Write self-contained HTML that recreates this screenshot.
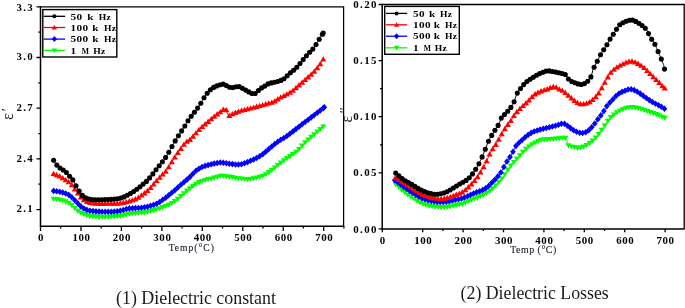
<!DOCTYPE html>
<html><head><meta charset="utf-8"><style>
html,body{margin:0;padding:0;background:#fff;}
body{width:685px;height:308px;overflow:hidden;}
svg{display:block;filter:blur(0.25px);}
</style></head><body>
<svg width="685" height="308" viewBox="0 0 685 308">
<path d="M40.5 6.8 H343.6 V226.3" stroke="#000" fill="none" stroke-width="1.25"/>
<path d="M40.5 6.2 V226.3 H344.2" stroke="#000" fill="none" stroke-width="1.5"/>
<path d="M36.5 6.8H40.5 M36.5 57.5H40.5 M36.5 108.2H40.5 M36.5 158.9H40.5 M36.5 209.6H40.5 M38.3 32.1H40.5 M38.3 82.8H40.5 M38.3 133.6H40.5 M38.3 184.2H40.5 M40.5 226.3V230.9 M81.0 226.3V230.9 M121.4 226.3V230.9 M161.9 226.3V230.9 M202.3 226.3V230.9 M242.8 226.3V230.9 M283.2 226.3V230.9 M323.7 226.3V230.9 M60.7 226.3V228.5 M101.2 226.3V228.5 M141.6 226.3V228.5 M182.1 226.3V228.5 M222.5 226.3V228.5 M263.0 226.3V228.5 M303.4 226.3V228.5 M343.9 226.3V228.5" stroke="#000" fill="none" stroke-width="1.3"/>
<path d="M382.2 4.5 H684.2 V229" stroke="#000" fill="none" stroke-width="1.3"/>
<path d="M382.2 3.8 V229 H684.5" stroke="#000" fill="none" stroke-width="1.5"/>
<path d="M378.6 4.5H382.2 M378.6 60.6H382.2 M378.6 116.7H382.2 M378.6 172.8H382.2 M378.6 228.9H382.2 M380.0 88.7H382.2 M380.0 144.8H382.2 M382.3 229V232.3 M422.7 229V232.3 M463.1 229V232.3 M503.5 229V232.3 M543.9 229V232.3 M584.3 229V232.3 M624.7 229V232.3 M665.1 229V232.3 M442.9 229V231 M483.3 229V231 M564.1 229V231 M604.5 229V231" stroke="#000" fill="none" stroke-width="1.3"/>
<g font-family="Liberation Serif" font-weight="bold" font-size="10.9" fill="#000"><text x="34.0" y="11.2" text-anchor="end" letter-spacing="1.3">3.3</text><text x="34.0" y="60.2" text-anchor="end" letter-spacing="1.3">3.0</text><text x="34.0" y="110.9" text-anchor="end" letter-spacing="1.3">2.7</text><text x="34.0" y="161.6" text-anchor="end" letter-spacing="1.3">2.4</text><text x="34.0" y="212.3" text-anchor="end" letter-spacing="1.3">2.1</text><text x="41.0" y="240.6" text-anchor="middle" letter-spacing="0.6">0</text><text x="81.5" y="240.6" text-anchor="middle" letter-spacing="0.6">100</text><text x="121.9" y="240.6" text-anchor="middle" letter-spacing="0.6">200</text><text x="162.4" y="240.6" text-anchor="middle" letter-spacing="0.6">300</text><text x="202.8" y="240.6" text-anchor="middle" letter-spacing="0.6">400</text><text x="243.2" y="240.6" text-anchor="middle" letter-spacing="0.6">500</text><text x="283.7" y="240.6" text-anchor="middle" letter-spacing="0.6">600</text><text x="324.2" y="240.6" text-anchor="middle" letter-spacing="0.6">700</text><text x="378.0" y="8.1" text-anchor="end" letter-spacing="1.45">0.20</text><text x="378.0" y="64.2" text-anchor="end" letter-spacing="1.45">0.15</text><text x="378.0" y="120.3" text-anchor="end" letter-spacing="1.45">0.10</text><text x="378.0" y="176.4" text-anchor="end" letter-spacing="1.45">0.05</text><text x="378.0" y="232.5" text-anchor="end" letter-spacing="1.45">0.00</text><text x="382.8" y="244" text-anchor="middle" letter-spacing="0.6">0</text><text x="423.2" y="244" text-anchor="middle" letter-spacing="0.6">100</text><text x="463.6" y="244" text-anchor="middle" letter-spacing="0.6">200</text><text x="504.0" y="244" text-anchor="middle" letter-spacing="0.6">300</text><text x="544.4" y="244" text-anchor="middle" letter-spacing="0.6">400</text><text x="584.8" y="244" text-anchor="middle" letter-spacing="0.6">500</text><text x="625.2" y="244" text-anchor="middle" letter-spacing="0.6">600</text><text x="665.6" y="244" text-anchor="middle" letter-spacing="0.6">700</text></g>
<text x="191.8" y="250.9" text-anchor="middle" font-family="Liberation Serif" font-size="9.6" letter-spacing="1" fill="#1a1a2a" stroke="#1a1a2a" stroke-width="0.12">Temp(°C)</text>
<text x="533.5" y="253.4" text-anchor="middle" font-family="Liberation Serif" font-size="9.8" letter-spacing="0.55" fill="#1a1a2a" stroke="#1a1a2a" stroke-width="0.12">Temp (°C)</text>
<text transform="translate(13.2,120.1) rotate(-90)" font-size="16.5" font-family="Liberation Serif" fill="#2a2238">ε</text>
<text transform="translate(11.6,111.3) rotate(-90)" font-size="15" font-family="Liberation Serif" fill="#2a2238">′</text>
<text transform="translate(351.6,122.4) rotate(-90)" font-size="16" font-family="Liberation Serif" fill="#2a2238">ε</text>
<text transform="translate(350.2,113.3) rotate(-90)" font-size="14" font-family="Liberation Serif" fill="#2a2238">′′</text>
<path d="M53.6 198.9 L54.3 199.0 L55.2 199.1 L56.2 199.2 L57.4 199.4 L58.6 199.6 L59.8 199.8 L60.9 200.0 L61.9 200.3 L62.9 200.5 L64.0 200.8 L65.0 201.2 L65.9 201.5 L66.8 201.9 L67.7 202.3 L68.7 202.8 L69.5 203.4 L70.3 204.0 L71.1 204.7 L71.9 205.3 L72.7 206.0 L73.4 206.8 L74.1 207.6 L74.8 208.3 L75.6 209.1 L76.4 209.9 L77.2 210.5 L78.0 211.1 L78.8 211.6 L79.6 212.1 L80.5 212.6 L81.5 213.1 L82.5 213.6 L83.4 214.0 L84.3 214.3 L85.2 214.7 L86.2 215.1 L87.2 215.4 L88.2 215.7 L89.3 216.0 L90.5 216.2 L91.4 216.3 L92.4 216.5 L93.3 216.6 L94.4 216.7 L95.4 216.8 L96.5 216.8 L97.5 216.9 L98.6 216.9 L99.7 217.0 L100.8 217.0 L101.8 217.0 L102.8 217.0 L103.9 217.0 L105.0 217.0 L106.0 217.0 L107.1 216.9 L108.2 216.9 L109.2 216.8 L110.3 216.8 L111.3 216.7 L112.2 216.7 L113.2 216.6 L114.3 216.5 L115.4 216.4 L116.5 216.3 L117.5 216.2 L118.5 216.1 L119.5 216.0 L120.5 215.9 L121.4 215.7 L122.3 215.6 L123.3 215.4 L124.2 215.1 L125.1 214.9 L125.9 214.6 L126.8 214.3 L127.9 214.0 L129.3 213.8 L130.1 213.7 L131.0 213.6 L131.9 213.5 L132.9 213.4 L133.9 213.4 L135.0 213.3 L136.1 213.2 L137.2 213.1 L138.3 213.1 L139.4 213.0 L140.5 212.9 L141.6 212.8 L142.6 212.6 L143.6 212.5 L144.7 212.3 L145.7 212.1 L146.7 212.0 L147.7 211.8 L148.7 211.5 L149.7 211.3 L150.7 211.1 L151.7 210.9 L152.7 210.6 L153.6 210.3 L154.6 210.0 L155.6 209.8 L156.6 209.4 L157.6 209.1 L158.6 208.8 L159.6 208.5 L160.6 208.1 L161.6 207.8 L162.6 207.4 L163.5 207.0 L164.5 206.6 L165.5 206.2 L166.4 205.8 L167.3 205.4 L168.2 205.0 L169.1 204.5 L170.1 204.0 L171.1 203.5 L172.0 202.9 L172.9 202.4 L173.8 201.8 L174.6 201.3 L175.5 200.7 L176.3 200.1 L177.0 199.6 L177.8 199.0 L178.7 198.3 L179.5 197.6 L180.2 196.9 L180.9 196.2 L181.6 195.5 L182.4 194.8 L183.1 194.1 L183.9 193.4 L184.7 192.7 L185.4 192.0 L186.2 191.4 L187.1 190.7 L187.9 190.0 L188.8 189.3 L189.6 188.6 L190.5 188.0 L191.3 187.3 L192.0 186.8 L192.9 186.2 L193.8 185.5 L194.7 184.9 L195.5 184.3 L196.4 183.8 L197.2 183.3 L198.0 182.8 L198.9 182.4 L199.9 181.9 L200.9 181.5 L201.9 181.1 L202.9 180.8 L203.9 180.5 L204.9 180.2 L205.9 179.9 L206.9 179.6 L207.9 179.3 L208.9 179.1 L209.9 178.9 L210.9 178.6 L211.9 178.4 L212.9 178.1 L214.0 177.9 L215.0 177.6 L216.1 177.3 L217.1 177.0 L217.9 176.8 L218.9 176.5 L219.7 176.1 L220.6 175.9 L221.8 175.9 L222.6 176.0 L223.5 176.1 L224.5 176.2 L225.6 176.3 L226.7 176.4 L227.8 176.6 L228.9 176.8 L230.0 176.9 L231.0 177.1 L232.0 177.3 L233.0 177.4 L234.0 177.6 L235.0 177.8 L236.0 178.0 L237.0 178.2 L238.0 178.4 L239.0 178.5 L240.0 178.7 L241.0 178.8 L242.0 178.9 L243.0 179.0 L244.0 179.1 L245.1 179.1 L246.1 179.1 L247.1 179.2 L248.1 179.1 L249.1 179.1 L250.1 179.0 L251.2 178.8 L252.2 178.7 L253.3 178.5 L254.3 178.3 L255.3 178.1 L256.3 177.8 L257.3 177.6 L258.3 177.4 L259.3 177.1 L260.3 176.9 L261.2 176.6 L262.1 176.3 L263.0 175.9 L264.0 175.5 L264.9 175.0 L265.7 174.5 L266.5 173.9 L267.4 173.3 L268.3 172.7 L269.1 172.0 L270.0 171.4 L270.8 170.7 L271.6 170.1 L272.4 169.5 L273.3 168.8 L274.1 168.1 L274.9 167.5 L275.7 166.8 L276.5 166.1 L277.3 165.5 L278.1 164.8 L278.9 164.2 L279.7 163.6 L280.5 162.9 L281.3 162.3 L282.1 161.7 L283.0 161.1 L283.8 160.5 L284.6 159.9 L285.4 159.3 L286.3 158.7 L287.1 158.1 L288.0 157.6 L288.9 157.0 L289.7 156.5 L290.6 155.9 L291.5 155.3 L292.3 154.7 L293.1 154.1 L293.9 153.6 L294.7 153.0 L295.5 152.4 L296.3 151.8 L297.1 151.1 L297.9 150.4 L298.6 149.7 L299.3 149.0 L299.9 148.3 L300.5 147.6 L301.2 146.8 L301.8 146.0 L302.5 145.3 L303.1 144.5 L303.9 143.7 L304.6 142.9 L305.3 142.2 L306.0 141.5 L306.7 140.9 L307.5 140.2 L308.2 139.5 L309.0 138.9 L309.8 138.2 L310.6 137.5 L311.4 136.8 L312.2 136.2 L312.9 135.5 L313.7 134.8 L314.5 134.2 L315.3 133.5 L316.2 132.7 L317.0 132.0 L317.9 131.2 L318.8 130.4 L319.6 129.7 L320.5 129.0 L321.2 128.3 L321.9 127.7 L322.5 127.2 L323.0 126.8 L323.2 126.6" fill="none" stroke="#0f0" stroke-width="1.0" stroke-linejoin="round"/>
<g fill="#0f0"><path d="M53.6 201.9L56.6 196.7L50.6 196.7Z"/><path d="M56.6 202.3L59.7 197.1L53.6 197.1Z"/><path d="M59.7 202.8L62.7 197.5L56.6 197.5Z"/><path d="M62.7 203.5L65.7 198.3L59.7 198.3Z"/><path d="M65.7 204.5L68.7 199.2L62.7 199.2Z"/><path d="M68.8 205.9L71.8 200.7L65.7 200.7Z"/><path d="M71.8 208.3L74.8 203.0L68.8 203.0Z"/><path d="M74.8 211.3L77.8 206.1L71.8 206.1Z"/><path d="M77.8 214.0L80.9 208.8L74.8 208.8Z"/><path d="M80.9 215.8L83.9 210.6L77.8 210.6Z"/><path d="M83.9 217.2L86.9 212.0L80.9 212.0Z"/><path d="M86.9 218.3L90.0 213.1L83.9 213.1Z"/><path d="M90.0 219.1L93.0 213.9L86.9 213.9Z"/><path d="M93.0 219.6L96.0 214.3L90.0 214.3Z"/><path d="M96.0 219.8L99.0 214.6L93.0 214.6Z"/><path d="M99.1 220.0L102.1 214.7L96.0 214.7Z"/><path d="M102.1 220.0L105.1 214.8L99.1 214.8Z"/><path d="M105.1 220.0L108.1 214.8L102.1 214.8Z"/><path d="M108.1 219.9L111.2 214.7L105.1 214.7Z"/><path d="M111.2 219.8L114.2 214.5L108.1 214.5Z"/><path d="M114.2 219.6L117.2 214.3L111.2 214.3Z"/><path d="M117.2 219.3L120.3 214.1L114.2 214.1Z"/><path d="M120.3 218.9L123.3 213.7L117.2 213.7Z"/><path d="M123.3 218.4L126.3 213.2L120.3 213.2Z"/><path d="M126.3 217.5L129.3 212.2L123.3 212.2Z"/><path d="M129.4 216.8L132.4 211.6L126.3 211.6Z"/><path d="M132.4 216.5L135.4 211.3L129.4 211.3Z"/><path d="M135.4 216.3L138.4 211.1L132.4 211.1Z"/><path d="M138.4 216.1L141.5 210.9L135.4 210.9Z"/><path d="M141.5 215.8L144.5 210.6L138.4 210.6Z"/><path d="M144.5 215.4L147.5 210.2L141.5 210.2Z"/><path d="M147.5 214.8L150.6 209.6L144.5 209.6Z"/><path d="M150.6 214.2L153.6 208.9L147.5 208.9Z"/><path d="M153.6 213.4L156.6 208.1L150.6 208.1Z"/><path d="M156.6 212.5L159.6 207.2L153.6 207.2Z"/><path d="M159.7 211.5L162.7 206.2L156.6 206.2Z"/><path d="M162.7 210.4L165.7 205.1L159.7 205.1Z"/><path d="M165.7 209.1L168.7 203.9L162.7 203.9Z"/><path d="M168.7 207.8L171.8 202.5L165.7 202.5Z"/><path d="M171.8 206.1L174.8 200.9L168.7 200.9Z"/><path d="M174.8 204.2L177.8 199.0L171.8 199.0Z"/><path d="M177.8 202.0L180.9 196.8L174.8 196.8Z"/><path d="M180.9 199.3L183.9 194.1L177.8 194.1Z"/><path d="M183.9 196.4L186.9 191.2L180.9 191.2Z"/><path d="M186.9 193.8L189.9 188.6L183.9 188.6Z"/><path d="M190.0 191.4L193.0 186.2L186.9 186.2Z"/><path d="M193.0 189.1L196.0 183.9L190.0 183.9Z"/><path d="M196.0 187.1L199.0 181.8L193.0 181.8Z"/><path d="M199.0 185.4L202.1 180.1L196.0 180.1Z"/><path d="M202.1 184.1L205.1 178.9L199.0 178.9Z"/><path d="M205.1 183.1L208.1 177.9L202.1 177.9Z"/><path d="M208.1 182.3L211.2 177.1L205.1 177.1Z"/><path d="M211.2 181.6L214.2 176.4L208.1 176.4Z"/><path d="M214.2 180.8L217.2 175.6L211.2 175.6Z"/><path d="M217.2 180.0L220.2 174.8L214.2 174.8Z"/><path d="M220.3 179.0L223.3 173.8L217.2 173.8Z"/><path d="M223.3 179.1L226.3 173.8L220.3 173.8Z"/><path d="M226.3 179.4L229.3 174.2L223.3 174.2Z"/><path d="M229.3 179.9L232.4 174.6L226.3 174.6Z"/><path d="M232.4 180.3L235.4 175.1L229.3 175.1Z"/><path d="M235.4 180.9L238.4 175.7L232.4 175.7Z"/><path d="M238.4 181.5L241.5 176.3L235.4 176.3Z"/><path d="M241.5 181.8L244.5 176.6L238.4 176.6Z"/><path d="M244.5 182.1L247.5 176.9L241.5 176.9Z"/><path d="M247.5 182.2L250.5 176.9L244.5 176.9Z"/><path d="M250.6 181.9L253.6 176.7L247.5 176.7Z"/><path d="M253.6 181.4L256.6 176.2L250.6 176.2Z"/><path d="M256.6 180.8L259.6 175.6L253.6 175.6Z"/><path d="M259.6 180.1L262.7 174.8L256.6 174.8Z"/><path d="M262.7 179.1L265.7 173.9L259.6 173.9Z"/><path d="M265.7 177.5L268.7 172.3L262.7 172.3Z"/><path d="M268.7 175.4L271.8 170.1L265.7 170.1Z"/><path d="M271.8 173.0L274.8 167.8L268.7 167.8Z"/><path d="M274.8 170.6L277.8 165.4L271.8 165.4Z"/><path d="M277.8 168.1L280.8 162.9L274.8 162.9Z"/><path d="M280.8 165.7L283.9 160.5L277.8 160.5Z"/><path d="M283.9 163.4L286.9 158.2L280.9 158.2Z"/><path d="M286.9 161.3L289.9 156.1L283.9 156.1Z"/><path d="M289.9 159.4L293.0 154.1L286.9 154.1Z"/><path d="M293.0 157.3L296.0 152.0L289.9 152.0Z"/><path d="M296.0 155.0L299.0 149.8L293.0 149.8Z"/><path d="M299.0 152.3L302.1 147.1L296.0 147.1Z"/><path d="M302.1 148.8L305.1 143.5L299.0 143.5Z"/><path d="M305.1 145.4L308.1 140.2L302.1 140.2Z"/><path d="M308.1 142.7L311.1 137.4L305.1 137.4Z"/><path d="M311.1 140.1L314.2 134.8L308.1 134.8Z"/><path d="M314.2 137.5L317.2 132.2L311.2 132.2Z"/><path d="M317.2 134.8L320.2 129.6L314.2 129.6Z"/><path d="M320.2 132.2L323.3 127.0L317.2 127.0Z"/><path d="M323.2 129.6L326.2 124.4L320.2 124.4Z"/></g>
<path d="M53.6 190.9 L54.3 191.0 L55.2 191.1 L56.2 191.2 L57.4 191.4 L58.6 191.6 L59.8 191.8 L60.9 192.0 L61.9 192.3 L62.9 192.5 L64.0 192.8 L65.0 193.2 L65.9 193.5 L66.8 193.9 L67.7 194.3 L68.7 194.8 L69.5 195.4 L70.3 196.0 L71.1 196.7 L71.9 197.3 L72.7 198.0 L73.4 198.8 L74.2 199.5 L74.9 200.3 L75.7 201.1 L76.4 201.9 L77.2 202.7 L77.9 203.5 L78.6 204.2 L79.3 205.0 L80.1 205.7 L80.9 206.5 L81.8 207.1 L82.5 207.6 L83.3 208.1 L84.2 208.6 L85.1 209.1 L86.0 209.6 L87.1 210.0 L88.2 210.3 L89.0 210.5 L89.9 210.7 L90.9 210.8 L91.9 211.0 L92.9 211.1 L93.9 211.2 L95.0 211.3 L96.1 211.4 L97.2 211.5 L98.4 211.5 L99.5 211.6 L100.5 211.6 L101.4 211.7 L102.5 211.7 L103.5 211.7 L104.6 211.8 L105.7 211.8 L106.8 211.8 L107.8 211.8 L108.9 211.7 L109.9 211.7 L110.9 211.7 L111.9 211.7 L112.8 211.6 L113.8 211.6 L115.0 211.5 L116.1 211.3 L117.2 211.2 L118.2 211.1 L119.1 210.9 L120.1 210.7 L121.0 210.6 L121.9 210.4 L122.8 210.2 L123.8 209.9 L124.7 209.6 L125.5 209.3 L126.3 209.0 L127.4 208.8 L128.6 208.5 L129.7 208.4 L130.5 208.3 L131.4 208.2 L132.4 208.2 L133.4 208.1 L134.5 208.1 L135.6 208.1 L136.7 208.0 L137.8 208.0 L138.9 208.0 L140.0 207.9 L141.1 207.8 L142.1 207.7 L143.1 207.6 L144.1 207.4 L145.2 207.2 L146.2 207.0 L147.2 206.7 L148.3 206.5 L149.3 206.2 L150.3 205.9 L151.3 205.6 L152.2 205.3 L153.2 205.0 L154.1 204.7 L154.9 204.4 L155.7 204.1 L156.7 203.6 L157.8 203.1 L158.7 202.6 L159.6 202.1 L160.4 201.5 L161.2 200.9 L162.0 200.4 L162.8 199.8 L163.6 199.2 L164.5 198.6 L165.3 198.0 L166.1 197.4 L166.9 196.8 L167.7 196.1 L168.5 195.5 L169.3 194.8 L170.1 194.2 L170.8 193.6 L171.6 192.9 L172.4 192.3 L173.1 191.6 L173.9 191.0 L174.7 190.3 L175.4 189.7 L176.2 189.0 L177.0 188.3 L177.7 187.7 L178.5 187.0 L179.3 186.3 L180.0 185.6 L180.8 184.9 L181.6 184.2 L182.3 183.5 L183.1 182.9 L183.8 182.2 L184.6 181.6 L185.4 180.9 L186.1 180.3 L186.9 179.6 L187.7 179.0 L188.4 178.3 L189.2 177.6 L189.9 176.9 L190.6 176.2 L191.4 175.4 L192.1 174.6 L192.8 173.9 L193.5 173.1 L194.3 172.4 L195.0 171.7 L195.7 171.1 L196.6 170.4 L197.4 169.8 L198.3 169.2 L199.1 168.6 L200.0 168.1 L200.8 167.6 L201.7 167.2 L202.6 166.8 L203.6 166.4 L204.6 166.1 L205.6 165.8 L206.6 165.5 L207.6 165.3 L208.6 165.0 L209.6 164.7 L210.6 164.5 L211.6 164.2 L212.6 163.9 L213.6 163.7 L214.6 163.5 L215.6 163.3 L216.6 163.1 L217.6 162.9 L218.6 162.7 L219.6 162.5 L220.8 162.5 L221.8 162.5 L222.8 162.6 L223.7 162.7 L224.7 162.9 L225.8 163.1 L226.8 163.3 L227.9 163.5 L229.0 163.7 L230.0 163.8 L231.0 164.0 L232.0 164.1 L233.1 164.2 L234.1 164.3 L235.1 164.4 L236.1 164.5 L237.1 164.5 L238.1 164.6 L239.0 164.5 L240.1 164.4 L241.1 164.3 L242.2 164.0 L243.2 163.7 L244.1 163.4 L245.1 163.0 L246.0 162.7 L247.0 162.3 L247.9 162.0 L248.9 161.6 L249.8 161.2 L250.7 160.8 L251.6 160.3 L252.5 159.9 L253.5 159.5 L254.4 159.1 L255.3 158.7 L256.2 158.2 L257.1 157.8 L258.0 157.3 L258.9 156.8 L259.8 156.2 L260.6 155.7 L261.4 155.1 L262.2 154.5 L263.1 153.9 L263.9 153.2 L264.7 152.6 L265.5 151.9 L266.3 151.3 L267.0 150.6 L267.8 150.0 L268.6 149.3 L269.3 148.6 L270.1 147.9 L270.9 147.2 L271.6 146.5 L272.4 145.9 L273.2 145.3 L274.0 144.6 L274.8 144.0 L275.6 143.4 L276.5 142.8 L277.3 142.2 L278.1 141.7 L278.9 141.1 L279.8 140.5 L280.6 140.0 L281.5 139.4 L282.4 138.9 L283.2 138.4 L284.1 137.9 L285.0 137.3 L285.8 136.7 L286.6 136.1 L287.4 135.6 L288.2 135.0 L289.1 134.3 L289.9 133.7 L290.7 133.1 L291.5 132.5 L292.3 131.9 L293.1 131.3 L293.9 130.7 L294.7 130.1 L295.5 129.5 L296.3 128.9 L297.1 128.2 L297.9 127.6 L298.7 127.0 L299.4 126.4 L300.2 125.8 L300.9 125.2 L301.7 124.6 L302.4 124.0 L303.3 123.4 L304.1 122.7 L305.0 122.0 L305.7 121.4 L306.5 120.9 L307.3 120.3 L308.1 119.7 L308.9 119.1 L309.8 118.4 L310.6 117.8 L311.5 117.2 L312.3 116.5 L313.2 115.9 L314.1 115.2 L314.9 114.6 L315.8 113.9 L316.7 113.2 L317.6 112.5 L318.6 111.7 L319.5 111.0 L320.5 110.3 L321.3 109.6 L322.2 109.0 L322.9 108.4 L323.5 107.9 L324.1 107.5 L324.3 107.3" fill="none" stroke="#00f" stroke-width="1.0" stroke-linejoin="round"/>
<g fill="#00f"><path d="M53.6 187.6L56.5 190.9L53.6 194.2L50.8 190.9Z"/><path d="M56.6 188.0L59.5 191.3L56.6 194.6L53.8 191.3Z"/><path d="M59.7 188.5L62.5 191.7L59.7 195.0L56.8 191.7Z"/><path d="M62.7 189.2L65.5 192.5L62.7 195.7L59.8 192.5Z"/><path d="M65.7 190.2L68.6 193.4L65.7 196.7L62.9 193.4Z"/><path d="M68.8 191.6L71.6 194.9L68.8 198.2L65.9 194.9Z"/><path d="M71.8 194.0L74.6 197.2L71.8 200.5L68.9 197.2Z"/><path d="M74.8 196.9L77.7 200.2L74.8 203.5L72.0 200.2Z"/><path d="M77.8 200.1L80.7 203.4L77.8 206.7L75.0 203.4Z"/><path d="M80.9 203.1L83.7 206.4L80.9 209.7L78.0 206.4Z"/><path d="M83.9 205.2L86.8 208.5L83.9 211.7L81.1 208.5Z"/><path d="M86.9 206.6L89.8 209.9L86.9 213.2L84.1 209.9Z"/><path d="M90.0 207.4L92.8 210.7L90.0 214.0L87.1 210.7Z"/><path d="M93.0 207.8L95.8 211.1L93.0 214.4L90.1 211.1Z"/><path d="M96.0 208.1L98.9 211.4L96.0 214.7L93.2 211.4Z"/><path d="M99.1 208.3L101.9 211.6L99.1 214.9L96.2 211.6Z"/><path d="M102.1 208.4L104.9 211.7L102.1 215.0L99.2 211.7Z"/><path d="M105.1 208.5L108.0 211.8L105.1 215.0L102.3 211.8Z"/><path d="M108.1 208.5L111.0 211.8L108.1 215.0L105.3 211.8Z"/><path d="M111.2 208.4L114.0 211.7L111.2 215.0L108.3 211.7Z"/><path d="M114.2 208.3L117.1 211.5L114.2 214.8L111.4 211.5Z"/><path d="M117.2 207.9L120.1 211.2L117.2 214.5L114.4 211.2Z"/><path d="M120.3 207.4L123.1 210.7L120.3 214.0L117.4 210.7Z"/><path d="M123.3 206.8L126.1 210.1L123.3 213.3L120.4 210.1Z"/><path d="M126.3 205.8L129.2 209.0L126.3 212.3L123.5 209.0Z"/><path d="M129.4 205.1L132.2 208.4L129.4 211.7L126.5 208.4Z"/><path d="M132.4 204.9L135.2 208.2L132.4 211.4L129.5 208.2Z"/><path d="M135.4 204.8L138.3 208.1L135.4 211.4L132.6 208.1Z"/><path d="M138.4 204.7L141.3 208.0L138.4 211.3L135.6 208.0Z"/><path d="M141.5 204.5L144.3 207.8L141.5 211.0L138.6 207.8Z"/><path d="M144.5 204.1L147.4 207.3L144.5 210.6L141.7 207.3Z"/><path d="M147.5 203.4L150.4 206.7L147.5 210.0L144.7 206.7Z"/><path d="M150.6 202.6L153.4 205.8L150.6 209.1L147.7 205.8Z"/><path d="M153.6 201.6L156.4 204.9L153.6 208.1L150.7 204.9Z"/><path d="M156.6 200.4L159.5 203.7L156.6 207.0L153.8 203.7Z"/><path d="M159.7 198.8L162.5 202.0L159.7 205.3L156.8 202.0Z"/><path d="M162.7 196.6L165.5 199.9L162.7 203.1L159.8 199.9Z"/><path d="M165.7 194.4L168.6 197.7L165.7 200.9L162.9 197.7Z"/><path d="M168.7 192.0L171.6 195.3L168.7 198.6L165.9 195.3Z"/><path d="M171.8 189.5L174.6 192.8L171.8 196.1L168.9 192.8Z"/><path d="M174.8 186.9L177.7 190.2L174.8 193.5L172.0 190.2Z"/><path d="M177.8 184.3L180.7 187.6L177.8 190.8L175.0 187.6Z"/><path d="M180.9 181.6L183.7 184.8L180.9 188.1L178.0 184.8Z"/><path d="M183.9 178.9L186.7 182.2L183.9 185.5L181.0 182.2Z"/><path d="M186.9 176.3L189.8 179.6L186.9 182.9L184.1 179.6Z"/><path d="M190.0 173.6L192.8 176.9L190.0 180.2L187.1 176.9Z"/><path d="M193.0 170.4L195.8 173.7L193.0 177.0L190.1 173.7Z"/><path d="M196.0 167.6L198.9 170.8L196.0 174.1L193.2 170.8Z"/><path d="M199.0 165.4L201.9 168.7L199.0 172.0L196.2 168.7Z"/><path d="M202.1 163.7L204.9 167.0L202.1 170.3L199.2 167.0Z"/><path d="M205.1 162.6L208.0 165.9L205.1 169.2L202.3 165.9Z"/><path d="M208.1 161.8L211.0 165.1L208.1 168.4L205.3 165.1Z"/><path d="M211.2 161.0L214.0 164.3L211.2 167.6L208.3 164.3Z"/><path d="M214.2 160.3L217.0 163.6L214.2 166.9L211.3 163.6Z"/><path d="M217.2 159.7L220.1 162.9L217.2 166.2L214.4 162.9Z"/><path d="M220.3 159.2L223.1 162.5L220.3 165.8L217.4 162.5Z"/><path d="M223.3 159.4L226.1 162.7L223.3 166.0L220.4 162.7Z"/><path d="M226.3 159.9L229.2 163.2L226.3 166.5L223.5 163.2Z"/><path d="M229.3 160.5L232.2 163.7L229.3 167.0L226.5 163.7Z"/><path d="M232.4 160.8L235.2 164.1L232.4 167.4L229.5 164.1Z"/><path d="M235.4 161.2L238.3 164.4L235.4 167.7L232.6 164.4Z"/><path d="M238.4 161.3L241.3 164.6L238.4 167.8L235.6 164.6Z"/><path d="M241.5 160.9L244.3 164.2L241.5 167.5L238.6 164.2Z"/><path d="M244.5 160.0L247.3 163.2L244.5 166.5L241.6 163.2Z"/><path d="M247.5 158.8L250.4 162.1L247.5 165.4L244.7 162.1Z"/><path d="M250.6 157.6L253.4 160.8L250.6 164.1L247.7 160.8Z"/><path d="M253.6 156.2L256.4 159.4L253.6 162.7L250.7 159.4Z"/><path d="M256.6 154.8L259.5 158.0L256.6 161.3L253.8 158.0Z"/><path d="M259.6 153.1L262.5 156.3L259.6 159.6L256.8 156.3Z"/><path d="M262.7 150.9L265.5 154.2L262.7 157.5L259.8 154.2Z"/><path d="M265.7 148.5L268.6 151.8L265.7 155.0L262.8 151.8Z"/><path d="M268.7 145.8L271.6 149.1L268.7 152.4L265.9 149.1Z"/><path d="M271.8 143.2L274.6 146.4L271.8 149.7L268.9 146.4Z"/><path d="M274.8 140.8L277.6 144.0L274.8 147.3L271.9 144.0Z"/><path d="M277.8 138.6L280.7 141.8L277.8 145.1L275.0 141.8Z"/><path d="M280.8 136.6L283.7 139.8L280.8 143.1L278.0 139.8Z"/><path d="M283.9 134.7L286.7 138.0L283.9 141.3L281.0 138.0Z"/><path d="M286.9 132.7L289.8 135.9L286.9 139.2L284.1 135.9Z"/><path d="M289.9 130.4L292.8 133.7L289.9 137.0L287.1 133.7Z"/><path d="M293.0 128.1L295.8 131.4L293.0 134.7L290.1 131.4Z"/><path d="M296.0 125.8L298.8 129.1L296.0 132.4L293.1 129.1Z"/><path d="M299.0 123.4L301.9 126.7L299.0 130.0L296.2 126.7Z"/><path d="M302.1 121.0L304.9 124.3L302.1 127.6L299.2 124.3Z"/><path d="M305.1 118.7L307.9 121.9L305.1 125.2L302.2 121.9Z"/><path d="M308.1 116.4L311.0 119.7L308.1 122.9L305.3 119.7Z"/><path d="M311.1 114.1L314.0 117.4L311.1 120.7L308.3 117.4Z"/><path d="M314.2 111.9L317.0 115.1L314.2 118.4L311.3 115.1Z"/><path d="M317.2 109.5L320.1 112.8L317.2 116.1L314.4 112.8Z"/><path d="M320.2 107.2L323.1 110.5L320.2 113.7L317.4 110.5Z"/><path d="M323.3 104.8L326.1 108.1L323.3 111.4L320.4 108.1Z"/><path d="M324.3 104.0L327.2 107.3L324.3 110.6L321.4 107.3Z"/></g>
<path d="M53.6 173.8 L54.2 174.0 L55.1 174.4 L56.2 174.8 L57.4 175.2 L58.6 175.8 L59.4 176.2 L60.4 176.7 L61.3 177.3 L62.3 177.9 L63.3 178.5 L64.2 179.0 L65.1 179.6 L66.0 180.1 L66.9 180.7 L67.8 181.2 L68.5 181.8 L69.3 182.4 L70.0 183.0 L70.8 183.8 L71.4 184.6 L72.1 185.5 L72.7 186.4 L73.4 187.3 L74.0 188.1 L74.6 188.9 L75.2 189.8 L75.8 190.6 L76.4 191.5 L77.1 192.4 L77.7 193.2 L78.3 194.0 L79.0 194.9 L79.6 195.7 L80.3 196.6 L81.0 197.3 L81.8 198.1 L82.5 198.7 L83.2 199.4 L84.0 200.1 L84.8 200.7 L85.6 201.2 L86.5 201.7 L87.4 202.1 L88.2 202.4 L89.0 202.6 L89.8 202.9 L90.7 203.1 L91.7 203.2 L92.8 203.3 L94.2 203.4 L95.4 203.5 L96.2 203.6 L97.1 203.6 L98.0 203.6 L99.0 203.6 L100.1 203.6 L101.2 203.6 L102.3 203.6 L103.5 203.6 L104.6 203.6 L105.7 203.6 L106.9 203.6 L108.0 203.6 L109.1 203.6 L110.1 203.6 L111.1 203.5 L112.0 203.5 L112.8 203.5 L113.9 203.5 L115.2 203.5 L116.3 203.5 L117.3 203.4 L118.1 203.4 L118.9 203.4 L119.8 203.3 L120.7 203.2 L121.7 203.0 L122.7 202.8 L123.7 202.6 L124.6 202.4 L125.7 202.2 L126.7 201.9 L127.8 201.7 L128.8 201.4 L129.9 201.1 L130.9 200.8 L131.9 200.5 L132.9 200.1 L133.8 199.8 L134.6 199.5 L135.7 199.0 L136.8 198.5 L137.7 197.9 L138.5 197.4 L139.3 196.8 L140.1 196.2 L140.9 195.6 L141.8 195.0 L142.6 194.4 L143.5 193.9 L144.3 193.3 L145.1 192.7 L145.9 192.1 L146.8 191.5 L147.6 190.8 L148.5 190.0 L149.2 189.3 L149.9 188.6 L150.6 187.8 L151.4 187.0 L152.1 186.2 L152.8 185.3 L153.5 184.5 L154.2 183.7 L154.9 182.8 L155.6 182.1 L156.2 181.3 L156.9 180.6 L157.7 179.7 L158.4 178.9 L159.1 178.1 L159.8 177.4 L160.4 176.7 L161.1 176.0 L161.7 175.3 L162.4 174.6 L163.2 173.9 L163.9 173.2 L164.6 172.6 L165.3 171.9 L166.1 171.0 L166.7 170.2 L167.2 169.5 L167.7 168.7 L168.2 167.9 L168.7 167.0 L169.3 166.2 L169.8 165.3 L170.4 164.3 L170.9 163.4 L171.5 162.5 L172.1 161.6 L172.6 160.8 L173.1 160.0 L173.7 159.1 L174.2 158.3 L174.8 157.4 L175.4 156.5 L176.0 155.6 L176.6 154.7 L177.2 153.9 L177.7 153.0 L178.3 152.2 L178.9 151.4 L179.5 150.5 L180.2 149.5 L180.8 148.6 L181.5 147.7 L182.1 146.8 L182.8 146.0 L183.4 145.2 L184.0 144.4 L184.6 143.7 L185.2 143.0 L186.0 142.2 L186.9 141.5 L187.8 140.9 L188.6 140.5 L189.4 140.0 L190.3 139.4 L191.0 138.7 L191.7 138.0 L192.3 137.3 L193.0 136.5 L193.7 135.7 L194.4 134.9 L195.1 134.1 L195.7 133.3 L196.4 132.6 L197.1 131.8 L197.8 131.1 L198.5 130.3 L199.2 129.6 L199.9 128.9 L200.6 128.2 L201.3 127.5 L202.0 126.8 L202.8 126.1 L203.6 125.4 L204.4 124.7 L205.2 124.1 L206.0 123.4 L206.8 122.7 L207.7 122.0 L208.5 121.4 L209.2 120.7 L210.1 120.0 L210.9 119.3 L211.7 118.6 L212.5 117.9 L213.4 117.2 L214.1 116.6 L214.9 115.9 L215.8 115.3 L216.6 114.6 L217.4 114.0 L218.2 113.4 L219.0 112.8 L219.8 112.3 L220.7 111.7 L221.6 110.9 L222.6 110.2 L223.5 109.5 L224.3 109.1 L225.1 108.9 L225.8 109.2 L226.3 109.9 L226.7 111.0 L227.0 112.2 L227.4 113.4 L227.8 114.5 L228.2 115.3 L228.9 115.6 L229.7 115.5 L230.7 115.0 L231.7 114.4 L232.9 113.7 L233.9 113.2 L234.8 112.9 L235.7 112.6 L236.6 112.2 L237.6 111.9 L238.7 111.5 L239.7 111.2 L240.8 110.8 L241.8 110.5 L242.8 110.2 L243.8 109.9 L244.9 109.7 L245.9 109.4 L247.0 109.2 L248.0 108.9 L249.0 108.7 L250.0 108.4 L250.9 108.2 L252.0 107.9 L253.0 107.7 L254.0 107.4 L254.9 107.2 L255.8 106.9 L256.8 106.7 L257.7 106.4 L258.7 106.1 L259.7 105.8 L260.6 105.6 L261.6 105.3 L262.6 105.0 L263.7 104.7 L264.7 104.4 L265.7 104.1 L266.7 103.9 L267.7 103.6 L268.8 103.4 L269.8 103.1 L270.8 102.8 L271.8 102.5 L272.8 102.2 L273.7 101.8 L274.7 101.3 L275.5 100.8 L276.4 100.2 L277.2 99.6 L278.0 99.1 L278.9 98.5 L279.7 98.0 L280.6 97.5 L281.6 97.0 L282.5 96.6 L283.4 96.1 L284.3 95.7 L285.3 95.2 L286.2 94.7 L287.1 94.2 L287.9 93.7 L288.8 93.2 L289.7 92.7 L290.5 92.2 L291.4 91.6 L292.3 91.0 L293.1 90.4 L293.8 89.8 L294.6 89.1 L295.4 88.5 L296.1 87.8 L296.9 87.1 L297.7 86.4 L298.4 85.7 L299.2 85.0 L300.0 84.3 L300.7 83.7 L301.5 83.0 L302.3 82.3 L303.0 81.6 L303.8 81.0 L304.6 80.3 L305.3 79.6 L306.1 79.0 L306.8 78.3 L307.6 77.7 L308.3 77.0 L309.1 76.4 L309.8 75.7 L310.6 75.1 L311.3 74.3 L312.1 73.6 L312.8 72.9 L313.5 72.2 L314.2 71.4 L314.9 70.6 L315.6 69.9 L316.3 69.1 L317.0 68.3 L317.7 67.5 L318.3 66.7 L318.9 65.9 L319.6 64.9 L320.3 63.9 L321.0 62.9 L321.6 62.0 L322.2 61.0 L322.7 60.2 L323.2 59.5 L323.5 59.0 L323.5 59.0" fill="none" stroke="#f00" stroke-width="1.0" stroke-linejoin="round"/>
<g fill="#f00"><path d="M53.6 170.7L56.7 176.0L50.5 176.0Z"/><path d="M56.6 171.8L59.7 177.2L53.6 177.2Z"/><path d="M59.7 173.3L62.7 178.6L56.6 178.6Z"/><path d="M62.7 175.0L65.8 180.3L59.6 180.3Z"/><path d="M65.7 176.9L68.8 182.2L62.6 182.2Z"/><path d="M68.8 178.9L71.8 184.2L65.7 184.2Z"/><path d="M71.8 182.0L74.9 187.3L68.7 187.3Z"/><path d="M74.8 186.2L77.9 191.5L71.7 191.5Z"/><path d="M77.8 190.3L80.9 195.6L74.8 195.6Z"/><path d="M80.9 194.1L84.0 199.4L77.8 199.4Z"/><path d="M83.9 196.9L87.0 202.2L80.8 202.2Z"/><path d="M86.9 198.8L90.0 204.1L83.9 204.1Z"/><path d="M90.0 199.8L93.0 205.1L86.9 205.1Z"/><path d="M93.0 200.3L96.1 205.6L89.9 205.6Z"/><path d="M96.0 200.5L99.1 205.8L92.9 205.8Z"/><path d="M99.1 200.5L102.1 205.9L96.0 205.9Z"/><path d="M102.1 200.6L105.2 205.9L99.0 205.9Z"/><path d="M105.1 200.5L108.2 205.9L102.0 205.9Z"/><path d="M108.1 200.5L111.2 205.8L105.1 205.8Z"/><path d="M111.2 200.5L114.3 205.8L108.1 205.8Z"/><path d="M114.2 200.4L117.3 205.7L111.1 205.7Z"/><path d="M117.2 200.4L120.3 205.7L114.2 205.7Z"/><path d="M120.3 200.1L123.3 205.5L117.2 205.5Z"/><path d="M123.3 199.6L126.4 204.9L120.2 204.9Z"/><path d="M126.3 198.9L129.4 204.3L123.2 204.3Z"/><path d="M129.4 198.1L132.4 203.5L126.3 203.5Z"/><path d="M132.4 197.2L135.5 202.5L129.3 202.5Z"/><path d="M135.4 196.1L138.5 201.4L132.3 201.4Z"/><path d="M138.4 194.4L141.5 199.7L135.4 199.7Z"/><path d="M141.5 192.2L144.6 197.5L138.4 197.5Z"/><path d="M144.5 190.1L147.6 195.4L141.4 195.4Z"/><path d="M147.5 187.8L150.6 193.1L144.5 193.1Z"/><path d="M150.6 184.8L153.6 190.1L147.5 190.1Z"/><path d="M153.6 181.3L156.7 186.6L150.5 186.6Z"/><path d="M156.6 177.8L159.7 183.1L153.5 183.1Z"/><path d="M159.7 174.4L162.7 179.8L156.6 179.8Z"/><path d="M162.7 171.2L165.8 176.6L159.6 176.6Z"/><path d="M165.7 168.4L168.8 173.7L162.6 173.7Z"/><path d="M168.7 164.0L171.8 169.3L165.7 169.3Z"/><path d="M171.8 159.0L174.9 164.3L168.7 164.3Z"/><path d="M174.8 154.3L177.9 159.6L171.7 159.6Z"/><path d="M177.8 149.8L180.9 155.1L174.8 155.1Z"/><path d="M180.9 145.5L183.9 150.9L177.8 150.9Z"/><path d="M183.9 141.5L187.0 146.8L180.8 146.8Z"/><path d="M186.9 138.4L190.0 143.7L183.8 143.7Z"/><path d="M190.0 136.5L193.0 141.9L186.9 141.9Z"/><path d="M193.0 133.5L196.1 138.8L189.9 138.8Z"/><path d="M196.0 129.9L199.1 135.3L192.9 135.3Z"/><path d="M199.0 126.7L202.1 132.0L196.0 132.0Z"/><path d="M202.1 123.7L205.2 129.0L199.0 129.0Z"/><path d="M205.1 121.0L208.2 126.4L202.0 126.4Z"/><path d="M208.1 118.6L211.2 123.9L205.1 123.9Z"/><path d="M211.2 116.0L214.2 121.3L208.1 121.3Z"/><path d="M214.2 113.5L217.3 118.8L211.1 118.8Z"/><path d="M217.2 111.1L220.3 116.4L214.1 116.4Z"/><path d="M220.3 108.9L223.3 114.2L217.2 114.2Z"/><path d="M223.3 106.6L226.4 111.9L220.2 111.9Z"/><path d="M226.3 107.0L229.4 112.3L223.2 112.3Z"/><path d="M229.3 112.6L232.4 117.9L226.3 117.9Z"/><path d="M232.4 110.9L235.5 116.2L229.3 116.2Z"/><path d="M235.4 109.6L238.5 114.9L232.3 114.9Z"/><path d="M238.4 108.5L241.5 113.8L235.4 113.8Z"/><path d="M241.5 107.5L244.5 112.8L238.4 112.8Z"/><path d="M244.5 106.7L247.6 112.0L241.4 112.0Z"/><path d="M247.5 105.9L250.6 111.3L244.4 111.3Z"/><path d="M250.6 105.2L253.6 110.5L247.5 110.5Z"/><path d="M253.6 104.4L256.7 109.7L250.5 109.7Z"/><path d="M256.6 103.6L259.7 108.9L253.5 108.9Z"/><path d="M259.6 102.8L262.7 108.1L256.6 108.1Z"/><path d="M262.7 101.9L265.8 107.2L259.6 107.2Z"/><path d="M265.7 101.0L268.8 106.4L262.6 106.4Z"/><path d="M268.7 100.3L271.8 105.6L265.6 105.6Z"/><path d="M271.8 99.5L274.8 104.8L268.7 104.8Z"/><path d="M274.8 98.1L277.9 103.4L271.7 103.4Z"/><path d="M277.8 96.1L280.9 101.4L274.7 101.4Z"/><path d="M280.8 94.3L283.9 99.6L277.8 99.6Z"/><path d="M283.9 92.8L287.0 98.1L280.8 98.1Z"/><path d="M286.9 91.2L290.0 96.5L283.8 96.5Z"/><path d="M289.9 89.5L293.0 94.8L286.9 94.8Z"/><path d="M293.0 87.4L296.0 92.7L289.9 92.7Z"/><path d="M296.0 84.8L299.1 90.2L292.9 90.2Z"/><path d="M299.0 82.1L302.1 87.4L295.9 87.4Z"/><path d="M302.1 79.4L305.1 84.7L299.0 84.7Z"/><path d="M305.1 76.8L308.2 82.1L302.0 82.1Z"/><path d="M308.1 74.1L311.2 79.5L305.0 79.5Z"/><path d="M311.1 71.4L314.2 76.8L308.1 76.8Z"/><path d="M314.2 68.4L317.3 73.7L311.1 73.7Z"/><path d="M317.2 64.9L320.3 70.3L314.1 70.3Z"/><path d="M320.2 60.9L323.3 66.3L317.2 66.3Z"/><path d="M323.3 56.3L326.3 61.6L320.2 61.6Z"/></g>
<path d="M53.6 160.2 L54.0 160.8 L54.5 161.6 L55.1 162.6 L55.8 163.6 L56.5 164.6 L57.2 165.5 L57.9 166.3 L58.7 167.0 L59.6 167.7 L60.4 168.2 L61.2 168.8 L62.0 169.3 L62.9 169.9 L63.8 170.3 L64.6 170.8 L65.5 171.6 L66.1 172.3 L66.8 173.0 L67.6 173.9 L68.3 174.8 L69.0 175.6 L69.7 176.4 L70.4 177.2 L71.1 178.0 L71.8 178.8 L72.5 179.5 L73.1 180.3 L73.7 181.1 L74.1 182.0 L74.6 182.8 L75.0 183.7 L75.4 184.7 L75.9 185.6 L76.4 186.5 L76.9 187.4 L77.5 188.3 L78.0 189.2 L78.6 190.1 L79.1 190.9 L79.7 191.8 L80.3 192.7 L80.9 193.6 L81.5 194.4 L82.1 195.1 L82.9 195.9 L83.7 196.6 L84.5 197.2 L85.4 197.8 L86.4 198.3 L87.4 198.6 L88.1 198.9 L88.9 199.1 L89.7 199.2 L90.6 199.4 L91.6 199.5 L92.8 199.6 L94.2 199.7 L95.4 199.7 L96.2 199.7 L97.1 199.7 L98.0 199.7 L99.1 199.7 L100.1 199.7 L101.2 199.7 L102.3 199.7 L103.5 199.6 L104.6 199.6 L105.8 199.6 L106.9 199.5 L108.0 199.5 L109.1 199.4 L110.1 199.4 L111.1 199.3 L112.0 199.3 L112.8 199.2 L113.9 199.1 L115.2 199.0 L116.4 198.9 L117.4 198.7 L118.3 198.6 L119.2 198.4 L120.0 198.2 L120.8 198.0 L121.7 197.7 L122.6 197.4 L123.6 197.1 L124.5 196.7 L125.4 196.3 L126.2 195.8 L127.1 195.3 L128.0 194.9 L128.9 194.4 L129.7 193.9 L130.6 193.4 L131.5 192.8 L132.4 192.3 L133.2 191.7 L134.1 191.1 L134.9 190.6 L135.7 190.0 L136.5 189.5 L137.4 188.8 L138.3 188.2 L139.1 187.5 L139.8 186.9 L140.6 186.2 L141.4 185.5 L142.2 184.9 L143.0 184.2 L143.9 183.5 L144.7 182.8 L145.5 182.1 L146.3 181.4 L147.1 180.7 L147.8 180.0 L148.5 179.3 L149.1 178.6 L149.7 177.8 L150.3 177.0 L151.0 176.2 L151.7 175.4 L152.2 174.6 L152.8 173.9 L153.4 173.1 L154.0 172.3 L154.7 171.5 L155.3 170.7 L156.0 169.8 L156.7 168.9 L157.3 168.1 L157.9 167.4 L158.5 166.6 L159.2 165.8 L159.8 165.0 L160.5 164.1 L161.2 163.3 L161.8 162.5 L162.5 161.7 L163.1 160.9 L163.6 160.2 L164.2 159.3 L164.9 158.5 L165.4 157.7 L166.0 156.9 L166.5 156.1 L167.0 155.3 L167.5 154.5 L168.1 153.5 L168.6 152.6 L169.1 151.8 L169.6 151.0 L170.0 150.1 L170.5 149.2 L171.0 148.2 L171.6 147.3 L172.1 146.3 L172.6 145.4 L173.1 144.5 L173.6 143.6 L174.1 142.7 L174.6 141.8 L175.2 140.9 L175.8 139.9 L176.3 139.0 L176.9 138.2 L177.4 137.3 L178.0 136.4 L178.5 135.6 L179.0 134.8 L179.6 134.0 L180.1 133.1 L180.7 132.2 L181.3 131.3 L181.9 130.4 L182.5 129.5 L183.0 128.7 L183.6 127.9 L184.1 127.2 L184.6 126.3 L185.2 125.4 L185.7 124.5 L186.2 123.7 L186.7 122.8 L187.2 122.0 L187.8 121.1 L188.3 120.3 L188.9 119.4 L189.6 118.5 L190.2 117.6 L190.8 116.8 L191.5 115.9 L192.1 115.1 L192.8 114.3 L193.4 113.5 L194.1 112.7 L194.8 111.9 L195.4 111.1 L196.1 110.2 L196.7 109.4 L197.3 108.6 L197.9 107.7 L198.4 106.8 L199.0 106.0 L199.6 105.1 L200.1 104.2 L200.6 103.4 L201.2 102.5 L201.8 101.6 L202.3 100.7 L202.8 99.8 L203.3 98.9 L203.8 98.1 L204.3 97.3 L204.9 96.4 L205.5 95.5 L206.1 94.7 L206.7 93.9 L207.3 93.1 L208.0 92.3 L208.7 91.5 L209.5 90.7 L210.2 89.9 L211.0 89.2 L211.9 88.5 L212.7 87.9 L213.7 87.4 L214.6 86.9 L215.6 86.4 L216.6 86.0 L217.5 85.7 L218.5 85.3 L219.6 84.9 L220.7 84.6 L221.7 84.3 L222.7 84.1 L223.6 84.1 L224.7 84.4 L225.6 85.0 L226.5 85.6 L227.4 86.1 L228.4 86.6 L229.3 87.1 L230.4 87.5 L231.6 87.7 L232.5 87.6 L233.6 87.4 L234.7 87.1 L235.8 86.7 L236.9 86.5 L237.9 86.4 L238.9 86.5 L239.9 86.8 L240.9 87.3 L241.8 87.9 L242.7 88.5 L243.6 89.0 L244.6 89.6 L245.5 90.1 L246.5 90.7 L247.5 91.2 L248.4 91.7 L249.4 92.2 L250.4 92.7 L251.4 93.2 L252.4 93.7 L253.4 93.9 L254.5 93.8 L255.3 93.4 L256.0 92.8 L256.9 92.1 L257.7 91.2 L258.5 90.4 L259.3 89.6 L260.0 89.0 L261.0 88.3 L261.9 87.8 L262.8 87.3 L263.6 86.8 L264.5 86.3 L265.4 85.7 L266.1 85.1 L267.0 84.4 L268.0 83.9 L269.0 83.5 L269.9 83.2 L270.9 83.0 L271.9 82.8 L273.0 82.6 L274.1 82.4 L275.1 82.2 L276.1 81.9 L277.1 81.6 L278.2 81.3 L279.2 81.0 L280.1 80.7 L281.1 80.3 L282.0 79.9 L283.0 79.4 L283.8 78.8 L284.6 78.2 L285.3 77.6 L286.1 76.9 L286.8 76.1 L287.5 75.4 L288.3 74.6 L289.1 73.9 L289.8 73.3 L290.6 72.6 L291.4 72.0 L292.2 71.4 L293.0 70.7 L293.9 70.1 L294.7 69.3 L295.5 68.6 L296.2 67.9 L296.9 67.1 L297.6 66.4 L298.3 65.6 L299.0 64.8 L299.6 63.9 L300.3 63.1 L301.0 62.2 L301.7 61.4 L302.4 60.6 L303.0 59.8 L303.7 59.0 L304.5 58.1 L305.2 57.3 L305.9 56.5 L306.6 55.6 L307.3 54.8 L308.0 54.0 L308.6 53.3 L309.2 52.6 L309.9 51.8 L310.7 51.0 L311.5 50.3 L312.2 49.7 L312.8 49.1 L313.5 48.4 L314.1 47.7 L314.7 46.9 L315.2 46.1 L315.6 45.3 L316.1 44.5 L316.6 43.6 L317.2 42.5 L317.7 41.6 L318.2 40.8 L318.8 39.9 L319.4 38.9 L320.1 37.9 L320.7 36.9 L321.3 35.9 L321.9 35.0 L322.4 34.2 L322.9 33.5 L323.2 33.0 L323.2 33.0" fill="none" stroke="#000" stroke-width="1.0" stroke-linejoin="round"/>
<g fill="#000"><circle cx="53.6" cy="160.2" r="2.55"/><circle cx="56.8" cy="165.1" r="2.55"/><circle cx="60.0" cy="168.0" r="2.55"/><circle cx="63.2" cy="170.0" r="2.55"/><circle cx="66.4" cy="172.5" r="2.55"/><circle cx="69.6" cy="176.3" r="2.55"/><circle cx="72.8" cy="179.9" r="2.55"/><circle cx="76.0" cy="185.7" r="2.55"/><circle cx="79.2" cy="191.1" r="2.55"/><circle cx="82.4" cy="195.4" r="2.55"/><circle cx="85.6" cy="197.9" r="2.55"/><circle cx="88.8" cy="199.0" r="2.55"/><circle cx="92.0" cy="199.5" r="2.55"/><circle cx="95.2" cy="199.7" r="2.55"/><circle cx="98.4" cy="199.7" r="2.55"/><circle cx="101.6" cy="199.7" r="2.55"/><circle cx="104.8" cy="199.6" r="2.55"/><circle cx="108.0" cy="199.5" r="2.55"/><circle cx="111.2" cy="199.3" r="2.55"/><circle cx="114.4" cy="199.1" r="2.55"/><circle cx="117.6" cy="198.7" r="2.55"/><circle cx="120.8" cy="198.0" r="2.55"/><circle cx="124.0" cy="196.9" r="2.55"/><circle cx="127.2" cy="195.3" r="2.55"/><circle cx="130.4" cy="193.5" r="2.55"/><circle cx="133.6" cy="191.5" r="2.55"/><circle cx="136.8" cy="189.3" r="2.55"/><circle cx="140.0" cy="186.7" r="2.55"/><circle cx="143.2" cy="184.1" r="2.55"/><circle cx="146.4" cy="181.4" r="2.55"/><circle cx="149.6" cy="177.9" r="2.55"/><circle cx="152.8" cy="173.9" r="2.55"/><circle cx="156.0" cy="169.8" r="2.55"/><circle cx="159.2" cy="165.8" r="2.55"/><circle cx="162.4" cy="161.8" r="2.55"/><circle cx="165.6" cy="157.4" r="2.55"/><circle cx="168.8" cy="152.3" r="2.55"/><circle cx="172.0" cy="146.5" r="2.55"/><circle cx="175.2" cy="140.9" r="2.55"/><circle cx="178.4" cy="135.8" r="2.55"/><circle cx="181.6" cy="130.9" r="2.55"/><circle cx="184.8" cy="126.0" r="2.55"/><circle cx="188.0" cy="120.8" r="2.55"/><circle cx="191.2" cy="116.3" r="2.55"/><circle cx="194.4" cy="112.3" r="2.55"/><circle cx="197.6" cy="108.1" r="2.55"/><circle cx="200.8" cy="103.2" r="2.55"/><circle cx="204.0" cy="97.8" r="2.55"/><circle cx="207.2" cy="93.3" r="2.55"/><circle cx="210.4" cy="89.8" r="2.55"/><circle cx="213.6" cy="87.4" r="2.55"/><circle cx="216.8" cy="85.9" r="2.55"/><circle cx="220.0" cy="84.8" r="2.55"/><circle cx="223.2" cy="84.1" r="2.55"/><circle cx="226.4" cy="85.6" r="2.55"/><circle cx="229.6" cy="87.2" r="2.55"/><circle cx="232.8" cy="87.6" r="2.55"/><circle cx="236.0" cy="86.7" r="2.55"/><circle cx="239.2" cy="86.6" r="2.55"/><circle cx="242.4" cy="88.3" r="2.55"/><circle cx="245.6" cy="90.1" r="2.55"/><circle cx="248.8" cy="91.9" r="2.55"/><circle cx="252.0" cy="93.5" r="2.55"/><circle cx="255.2" cy="93.5" r="2.55"/><circle cx="258.4" cy="90.5" r="2.55"/><circle cx="261.6" cy="87.9" r="2.55"/><circle cx="264.8" cy="86.1" r="2.55"/><circle cx="268.0" cy="83.9" r="2.55"/><circle cx="271.2" cy="82.9" r="2.55"/><circle cx="274.4" cy="82.3" r="2.55"/><circle cx="277.6" cy="81.5" r="2.55"/><circle cx="280.8" cy="80.4" r="2.55"/><circle cx="284.0" cy="78.7" r="2.55"/><circle cx="287.2" cy="75.7" r="2.55"/><circle cx="290.4" cy="72.8" r="2.55"/><circle cx="293.6" cy="70.3" r="2.55"/><circle cx="296.8" cy="67.3" r="2.55"/><circle cx="300.0" cy="63.5" r="2.55"/><circle cx="303.2" cy="59.6" r="2.55"/><circle cx="306.4" cy="55.8" r="2.55"/><circle cx="309.6" cy="52.2" r="2.55"/><circle cx="312.8" cy="49.1" r="2.55"/><circle cx="316.0" cy="44.6" r="2.55"/><circle cx="319.2" cy="39.3" r="2.55"/><circle cx="322.4" cy="34.3" r="2.55"/><circle cx="323.2" cy="33.0" r="2.55"/></g>
<path d="M395.7 184.2 L396.1 184.6 L396.7 185.2 L397.4 185.8 L398.1 186.5 L399.0 187.3 L399.8 188.1 L400.7 188.9 L401.6 189.7 L402.5 190.4 L403.3 191.1 L404.0 191.7 L404.8 192.3 L405.6 192.9 L406.4 193.6 L407.2 194.2 L408.1 194.8 L408.9 195.4 L409.7 196.0 L410.6 196.6 L411.4 197.1 L412.2 197.7 L413.1 198.3 L414.0 198.9 L414.9 199.5 L415.8 200.0 L416.7 200.6 L417.6 201.1 L418.5 201.6 L419.4 202.1 L420.3 202.6 L421.2 203.0 L422.2 203.5 L423.2 203.9 L424.2 204.2 L425.1 204.6 L426.1 204.9 L427.1 205.2 L428.1 205.4 L429.1 205.7 L430.1 205.9 L431.1 206.1 L432.1 206.3 L433.1 206.5 L434.1 206.6 L435.1 206.7 L436.1 206.8 L437.1 206.9 L438.1 207.0 L439.1 207.0 L440.2 207.1 L441.2 207.1 L442.3 207.2 L443.3 207.2 L444.4 207.2 L445.4 207.2 L446.5 207.1 L447.5 207.0 L448.5 206.9 L449.5 206.7 L450.5 206.5 L451.5 206.2 L452.6 206.0 L453.6 205.7 L454.5 205.4 L455.5 205.2 L456.4 205.0 L457.5 204.8 L458.5 204.6 L459.4 204.5 L460.4 204.3 L461.3 204.2 L462.4 203.9 L463.6 203.5 L464.4 203.2 L465.2 202.9 L466.1 202.5 L467.0 202.1 L468.0 201.6 L468.9 201.2 L469.9 200.7 L470.9 200.3 L471.9 199.8 L472.9 199.4 L473.8 198.9 L474.8 198.5 L475.7 198.1 L476.6 197.7 L477.6 197.3 L478.6 196.9 L479.5 196.5 L480.5 196.1 L481.4 195.7 L482.4 195.3 L483.3 194.9 L484.1 194.5 L485.0 194.0 L485.9 193.5 L486.8 193.0 L487.7 192.4 L488.5 191.8 L489.3 191.2 L490.1 190.6 L490.9 190.0 L491.7 189.3 L492.5 188.6 L493.3 187.9 L494.0 187.2 L494.7 186.5 L495.5 185.8 L496.2 185.1 L496.9 184.3 L497.6 183.5 L498.3 182.7 L499.0 181.9 L499.7 181.1 L500.4 180.3 L501.0 179.5 L501.7 178.7 L502.3 177.9 L502.9 177.1 L503.6 176.2 L504.2 175.3 L504.8 174.5 L505.3 173.6 L505.9 172.7 L506.5 171.9 L507.0 171.0 L507.6 170.2 L508.1 169.4 L508.6 168.7 L509.3 167.8 L510.0 166.9 L510.6 166.0 L511.3 165.2 L511.9 164.5 L512.5 163.7 L513.1 163.0 L513.8 162.2 L514.4 161.5 L515.1 160.7 L515.8 159.9 L516.5 159.2 L517.1 158.4 L517.8 157.7 L518.5 157.0 L519.2 156.2 L519.9 155.5 L520.6 154.7 L521.2 154.0 L521.9 153.2 L522.5 152.5 L523.2 151.7 L523.9 151.0 L524.6 150.2 L525.4 149.5 L526.1 148.9 L526.9 148.2 L527.7 147.6 L528.5 146.9 L529.4 146.3 L530.2 145.7 L531.1 145.1 L531.9 144.5 L532.8 144.0 L533.7 143.5 L534.6 142.9 L535.5 142.4 L536.5 141.9 L537.4 141.5 L538.3 141.1 L539.2 140.7 L540.1 140.3 L541.1 140.1 L542.1 139.8 L543.2 139.6 L544.2 139.5 L545.2 139.4 L546.2 139.4 L547.3 139.3 L548.3 139.2 L549.3 139.1 L550.3 139.1 L551.3 139.0 L552.3 139.0 L553.3 138.9 L554.4 138.9 L555.5 138.8 L556.6 138.8 L557.6 138.6 L558.7 138.5 L559.9 138.3 L561.1 138.1 L562.2 137.9 L563.3 137.8 L564.3 137.8 L565.2 138.0 L565.9 138.2 L566.6 138.8 L566.9 139.7 L567.1 140.8 L567.1 142.0 L567.2 143.2 L567.4 144.2 L567.8 145.0 L568.5 145.6 L569.4 146.1 L570.4 146.4 L571.5 146.6 L572.6 146.8 L573.6 147.0 L574.7 147.3 L575.7 147.5 L576.8 147.7 L577.9 147.9 L579.0 147.9 L580.0 147.8 L581.0 147.7 L581.9 147.4 L582.9 147.1 L583.9 146.7 L584.8 146.2 L585.7 145.8 L586.6 145.3 L587.5 144.7 L588.4 144.1 L589.3 143.5 L590.2 142.8 L591.1 142.1 L591.8 141.5 L592.6 140.8 L593.3 140.2 L594.1 139.4 L594.8 138.7 L595.5 137.9 L596.3 137.1 L597.0 136.3 L597.6 135.5 L598.3 134.7 L599.0 133.8 L599.7 132.9 L600.3 132.0 L601.0 131.1 L601.6 130.2 L602.1 129.5 L602.6 128.8 L603.3 127.8 L603.7 127.2 L604.0 126.6 L604.7 125.6 L605.2 124.9 L605.7 124.1 L606.3 123.3 L606.9 122.4 L607.5 121.4 L608.2 120.5 L608.9 119.6 L609.5 118.8 L610.2 118.0 L610.9 117.2 L611.7 116.5 L612.5 115.8 L613.3 115.1 L614.1 114.4 L614.9 113.8 L615.7 113.2 L616.6 112.6 L617.4 112.0 L618.3 111.5 L619.3 110.9 L620.2 110.4 L621.2 109.9 L622.1 109.5 L623.1 109.1 L624.1 108.7 L625.0 108.4 L626.0 108.1 L627.0 107.9 L628.0 107.7 L629.0 107.5 L630.0 107.4 L631.0 107.3 L632.0 107.3 L633.0 107.3 L634.0 107.4 L635.0 107.5 L636.0 107.6 L637.0 107.8 L637.9 108.1 L638.9 108.3 L639.9 108.6 L640.9 108.9 L641.8 109.2 L642.8 109.5 L643.7 109.8 L644.7 110.2 L645.6 110.6 L646.6 110.9 L647.5 111.3 L648.4 111.6 L649.4 112.0 L650.4 112.3 L651.4 112.6 L652.4 113.0 L653.3 113.3 L654.3 113.6 L655.3 113.9 L656.3 114.3 L657.3 114.7 L658.3 115.1 L659.4 115.6 L660.5 116.1 L661.6 116.5 L662.6 117.0 L663.5 117.4 L664.2 117.7 L664.8 118.0 L664.8 118.0" fill="none" stroke="#0f0" stroke-width="1.0" stroke-linejoin="round"/>
<g fill="#0f0"><path d="M395.7 187.2L398.7 182.0L392.7 182.0Z"/><path d="M398.7 190.1L401.8 184.9L395.7 184.9Z"/><path d="M401.8 192.9L404.8 187.6L398.7 187.6Z"/><path d="M404.8 195.3L407.8 190.1L401.8 190.1Z"/><path d="M407.8 197.6L410.8 192.4L404.8 192.4Z"/><path d="M410.8 199.8L413.9 194.6L407.8 194.6Z"/><path d="M413.9 201.8L416.9 196.6L410.9 196.6Z"/><path d="M416.9 203.8L419.9 198.5L413.9 198.5Z"/><path d="M419.9 205.5L423.0 200.2L416.9 200.2Z"/><path d="M423.0 206.8L426.0 201.6L419.9 201.6Z"/><path d="M426.0 207.9L429.0 202.6L423.0 202.6Z"/><path d="M429.0 208.7L432.1 203.5L426.0 203.5Z"/><path d="M432.1 209.3L435.1 204.1L429.0 204.1Z"/><path d="M435.1 209.7L438.1 204.5L432.1 204.5Z"/><path d="M438.1 210.0L441.1 204.8L435.1 204.8Z"/><path d="M441.1 210.2L444.2 204.9L438.1 204.9Z"/><path d="M444.2 210.2L447.2 205.0L441.2 205.0Z"/><path d="M447.2 210.1L450.2 204.8L444.2 204.8Z"/><path d="M450.2 209.6L453.3 204.3L447.2 204.3Z"/><path d="M453.3 208.8L456.3 203.6L450.2 203.6Z"/><path d="M456.3 208.0L459.3 202.8L453.3 202.8Z"/><path d="M459.3 207.5L462.4 202.3L456.3 202.3Z"/><path d="M462.4 206.9L465.4 201.7L459.3 201.7Z"/><path d="M465.4 205.8L468.4 200.6L462.4 200.6Z"/><path d="M468.4 204.5L471.4 199.2L465.4 199.2Z"/><path d="M471.4 203.0L474.5 197.8L468.4 197.8Z"/><path d="M474.5 201.6L477.5 196.4L471.5 196.4Z"/><path d="M477.5 200.4L480.5 195.2L474.5 195.2Z"/><path d="M480.5 199.1L483.6 193.9L477.5 193.9Z"/><path d="M483.6 197.8L486.6 192.6L480.5 192.6Z"/><path d="M486.6 196.1L489.6 190.9L483.6 190.9Z"/><path d="M489.6 194.0L492.7 188.8L486.6 188.8Z"/><path d="M492.7 191.5L495.7 186.3L489.6 186.3Z"/><path d="M495.7 188.6L498.7 183.3L492.7 183.3Z"/><path d="M498.7 185.3L501.7 180.0L495.7 180.0Z"/><path d="M501.7 181.6L504.8 176.4L498.7 176.4Z"/><path d="M504.8 177.5L507.8 172.2L501.8 172.2Z"/><path d="M507.8 172.9L510.8 167.6L504.8 167.6Z"/><path d="M510.8 168.8L513.9 163.6L507.8 163.6Z"/><path d="M513.9 165.1L516.9 159.9L510.8 159.9Z"/><path d="M516.9 161.7L519.9 156.5L513.9 156.5Z"/><path d="M519.9 158.5L523.0 153.3L516.9 153.3Z"/><path d="M523.0 155.0L526.0 149.8L519.9 149.8Z"/><path d="M526.0 152.0L529.0 146.8L523.0 146.8Z"/><path d="M529.0 149.6L532.0 144.4L526.0 144.4Z"/><path d="M532.0 147.5L535.1 142.3L529.0 142.3Z"/><path d="M535.1 145.7L538.1 140.5L532.1 140.5Z"/><path d="M538.1 144.2L541.1 138.9L535.1 138.9Z"/><path d="M541.1 143.1L544.2 137.8L538.1 137.8Z"/><path d="M544.2 142.5L547.2 137.3L541.1 137.3Z"/><path d="M547.2 142.3L550.2 137.1L544.2 137.1Z"/><path d="M550.2 142.1L553.3 136.9L547.2 136.9Z"/><path d="M553.3 142.0L556.3 136.7L550.2 136.7Z"/><path d="M556.3 141.8L559.3 136.6L553.3 136.6Z"/><path d="M559.3 141.4L562.3 136.2L556.3 136.2Z"/><path d="M562.3 141.0L565.4 135.7L559.3 135.7Z"/><path d="M565.4 141.0L568.4 135.8L562.4 135.8Z"/><path d="M568.4 148.6L571.4 143.3L565.4 143.3Z"/><path d="M571.4 149.6L574.5 144.4L568.4 144.4Z"/><path d="M574.5 150.2L577.5 145.0L571.4 145.0Z"/><path d="M577.5 150.9L580.5 145.6L574.5 145.6Z"/><path d="M580.5 150.8L583.6 145.6L577.5 145.6Z"/><path d="M583.6 149.8L586.6 144.6L580.5 144.6Z"/><path d="M586.6 148.3L589.6 143.1L583.6 143.1Z"/><path d="M589.6 146.3L592.6 141.1L586.6 141.1Z"/><path d="M592.6 143.8L595.7 138.6L589.6 138.6Z"/><path d="M595.7 140.8L598.7 135.6L592.7 135.6Z"/><path d="M598.7 137.2L601.7 132.0L595.7 132.0Z"/><path d="M601.7 133.0L604.8 127.8L598.7 127.8Z"/><path d="M604.8 128.5L607.8 123.3L601.7 123.3Z"/><path d="M607.8 124.1L610.8 118.8L604.8 118.8Z"/><path d="M610.8 120.4L613.9 115.1L607.8 115.1Z"/><path d="M613.9 117.6L616.9 112.4L610.8 112.4Z"/><path d="M616.9 115.4L619.9 110.2L613.9 110.2Z"/><path d="M619.9 113.6L622.9 108.4L616.9 108.4Z"/><path d="M622.9 112.2L626.0 106.9L619.9 106.9Z"/><path d="M626.0 111.1L629.0 105.9L623.0 105.9Z"/><path d="M629.0 110.5L632.0 105.3L626.0 105.3Z"/><path d="M632.0 110.3L635.1 105.1L629.0 105.1Z"/><path d="M635.1 110.5L638.1 105.3L632.0 105.3Z"/><path d="M638.1 111.2L641.1 105.9L635.1 105.9Z"/><path d="M641.1 112.0L644.2 106.8L638.1 106.8Z"/><path d="M644.2 113.0L647.2 107.8L641.1 107.8Z"/><path d="M647.2 114.2L650.2 109.0L644.2 109.0Z"/><path d="M650.2 115.3L653.2 110.1L647.2 110.1Z"/><path d="M653.2 116.3L656.3 111.0L650.2 111.0Z"/><path d="M656.3 117.3L659.3 112.1L653.3 112.1Z"/><path d="M659.3 118.6L662.3 113.3L656.3 113.3Z"/><path d="M662.3 119.9L665.4 114.7L659.3 114.7Z"/><path d="M664.8 121.0L667.8 115.8L661.8 115.8Z"/></g>
<path d="M394.8 180.3 L395.3 180.7 L395.9 181.1 L396.6 181.6 L397.4 182.2 L398.3 182.9 L399.2 183.5 L400.2 184.2 L401.1 184.9 L402.0 185.6 L402.9 186.2 L403.7 186.8 L404.5 187.4 L405.4 188.0 L406.2 188.5 L407.1 189.1 L407.9 189.7 L408.8 190.3 L409.7 190.9 L410.5 191.5 L411.4 192.0 L412.2 192.6 L413.1 193.2 L414.0 193.7 L414.9 194.3 L415.8 194.9 L416.7 195.4 L417.6 195.9 L418.5 196.5 L419.4 196.9 L420.3 197.4 L421.2 197.8 L422.2 198.3 L423.2 198.6 L424.2 199.0 L425.1 199.3 L426.1 199.7 L427.1 199.9 L428.1 200.2 L429.1 200.5 L430.1 200.7 L431.1 200.9 L432.1 201.2 L433.1 201.3 L434.1 201.5 L435.1 201.7 L436.1 201.8 L437.1 201.9 L438.1 202.0 L439.1 202.0 L440.2 202.0 L441.2 202.0 L442.3 202.0 L443.3 201.9 L444.4 201.9 L445.4 201.8 L446.5 201.6 L447.5 201.5 L448.5 201.3 L449.5 201.2 L450.5 201.0 L451.5 200.7 L452.6 200.5 L453.6 200.3 L454.5 200.0 L455.5 199.8 L456.4 199.6 L457.5 199.4 L458.5 199.2 L459.4 199.0 L460.4 198.8 L461.3 198.6 L462.4 198.3 L463.6 197.9 L464.4 197.6 L465.2 197.3 L466.1 196.9 L467.0 196.5 L468.0 196.1 L468.9 195.6 L469.9 195.2 L470.9 194.7 L471.9 194.3 L472.9 193.8 L473.8 193.4 L474.8 193.0 L475.7 192.6 L476.6 192.3 L477.6 191.9 L478.6 191.6 L479.5 191.2 L480.5 190.9 L481.4 190.5 L482.4 190.1 L483.3 189.7 L484.1 189.2 L485.0 188.8 L485.8 188.2 L486.7 187.6 L487.5 187.0 L488.3 186.3 L489.1 185.6 L489.8 184.9 L490.5 184.1 L491.3 183.4 L492.0 182.6 L492.7 181.9 L493.4 181.2 L494.1 180.4 L494.8 179.7 L495.5 179.0 L496.2 178.2 L496.8 177.5 L497.5 176.8 L498.1 176.0 L498.8 175.2 L499.4 174.5 L500.0 173.6 L500.6 172.8 L501.2 172.0 L501.7 171.1 L502.2 170.2 L502.7 169.2 L503.2 168.3 L503.7 167.3 L504.2 166.4 L504.6 165.5 L505.1 164.5 L505.6 163.7 L506.1 162.8 L506.7 161.9 L507.3 160.9 L507.9 160.1 L508.5 159.2 L509.1 158.3 L509.7 157.5 L510.2 156.6 L510.8 155.8 L511.3 154.9 L511.9 154.0 L512.4 153.1 L512.8 152.1 L513.3 151.1 L513.7 150.2 L514.1 149.2 L514.6 148.3 L515.0 147.4 L515.5 146.6 L516.1 145.8 L516.8 144.9 L517.5 144.2 L518.2 143.5 L519.0 142.8 L519.7 142.1 L520.5 141.4 L521.3 140.7 L522.0 140.0 L522.8 139.3 L523.6 138.6 L524.5 137.9 L525.3 137.2 L526.1 136.5 L526.9 135.8 L527.6 135.3 L528.5 134.6 L529.4 134.0 L530.2 133.4 L531.1 132.9 L532.0 132.5 L533.0 132.0 L533.8 131.7 L534.7 131.3 L535.7 131.0 L536.6 130.7 L537.6 130.4 L538.6 130.1 L539.6 129.8 L540.6 129.5 L541.6 129.2 L542.6 128.9 L543.7 128.7 L544.7 128.4 L545.7 128.1 L546.8 127.9 L547.8 127.6 L548.8 127.4 L549.8 127.1 L550.7 126.9 L551.7 126.7 L552.7 126.4 L553.7 126.2 L554.6 126.0 L555.6 125.7 L556.6 125.5 L557.6 125.1 L558.6 124.8 L559.6 124.4 L560.6 124.1 L561.6 123.8 L562.6 123.6 L563.5 123.6 L564.4 123.7 L565.4 124.1 L566.3 124.7 L567.1 125.4 L568.0 126.1 L568.8 126.8 L569.7 127.5 L570.5 128.1 L571.4 128.7 L572.2 129.3 L573.1 129.9 L573.9 130.5 L574.8 131.0 L575.6 131.4 L576.6 131.8 L577.5 132.2 L578.5 132.5 L579.5 132.8 L580.4 132.9 L581.4 133.0 L582.4 133.0 L583.4 132.9 L584.3 132.7 L585.3 132.4 L586.3 131.9 L587.3 131.4 L588.0 130.9 L588.8 130.3 L589.5 129.6 L590.2 128.9 L590.9 128.1 L591.7 127.3 L592.4 126.4 L593.1 125.6 L593.7 124.8 L594.4 124.0 L595.0 123.2 L595.6 122.3 L596.3 121.4 L596.9 120.5 L597.5 119.7 L598.1 118.9 L598.6 118.1 L599.3 117.3 L600.0 116.4 L600.7 115.6 L601.3 114.8 L601.9 114.1 L602.5 113.3 L603.1 112.4 L603.6 111.5 L604.0 110.6 L604.5 109.7 L605.0 108.7 L605.7 107.7 L606.2 107.0 L606.8 106.2 L607.5 105.4 L608.1 104.6 L608.8 103.8 L609.6 102.9 L610.3 102.1 L611.0 101.3 L611.7 100.5 L612.4 99.8 L613.1 99.0 L613.8 98.2 L614.5 97.5 L615.3 96.7 L616.0 96.0 L616.7 95.3 L617.5 94.7 L618.2 94.1 L619.1 93.5 L620.0 92.9 L621.0 92.4 L621.9 92.0 L622.8 91.6 L623.7 91.2 L624.6 90.9 L625.6 90.5 L626.6 90.0 L627.6 89.6 L628.6 89.3 L629.6 89.1 L630.7 89.1 L631.6 89.2 L632.5 89.5 L633.5 89.8 L634.4 90.2 L635.4 90.7 L636.5 91.2 L637.5 91.8 L638.3 92.3 L639.1 92.8 L640.0 93.4 L640.8 94.0 L641.7 94.7 L642.6 95.4 L643.4 96.0 L644.3 96.6 L645.1 97.2 L646.0 97.8 L646.8 98.4 L647.7 99.0 L648.6 99.6 L649.4 100.2 L650.2 100.7 L651.0 101.2 L651.9 101.7 L652.8 102.3 L653.7 102.8 L654.6 103.2 L655.5 103.7 L656.5 104.2 L657.4 104.6 L658.2 105.0 L659.1 105.5 L660.1 106.1 L661.1 106.7 L662.1 107.3 L663.1 107.8 L663.9 108.3 L664.6 108.8 L664.8 108.9" fill="none" stroke="#00f" stroke-width="1.0" stroke-linejoin="round"/>
<g fill="#00f"><path d="M394.8 177.0L397.7 180.3L394.8 183.6L391.9 180.3Z"/><path d="M397.8 179.3L400.7 182.5L397.8 185.8L395.0 182.5Z"/><path d="M400.9 181.5L403.7 184.7L400.9 188.0L398.0 184.7Z"/><path d="M403.9 183.6L406.7 186.9L403.9 190.2L401.0 186.9Z"/><path d="M406.9 185.7L409.8 189.0L406.9 192.3L404.1 189.0Z"/><path d="M409.9 187.8L412.8 191.1L409.9 194.4L407.1 191.1Z"/><path d="M413.0 189.8L415.8 193.1L413.0 196.3L410.1 193.1Z"/><path d="M416.0 191.7L418.9 195.0L416.0 198.3L413.2 195.0Z"/><path d="M419.0 193.5L421.9 196.8L419.0 200.0L416.2 196.8Z"/><path d="M422.1 194.9L424.9 198.2L422.1 201.5L419.2 198.2Z"/><path d="M425.1 196.1L427.9 199.3L425.1 202.6L422.2 199.3Z"/><path d="M428.1 196.9L431.0 200.2L428.1 203.5L425.3 200.2Z"/><path d="M431.2 197.7L434.0 201.0L431.2 204.2L428.3 201.0Z"/><path d="M434.2 198.3L437.0 201.5L434.2 204.8L431.3 201.5Z"/><path d="M437.2 198.6L440.1 201.9L437.2 205.2L434.4 201.9Z"/><path d="M440.2 198.8L443.1 202.0L440.2 205.3L437.4 202.0Z"/><path d="M443.3 198.7L446.1 201.9L443.3 205.2L440.4 201.9Z"/><path d="M446.3 198.4L449.2 201.7L446.3 204.9L443.5 201.7Z"/><path d="M449.3 197.9L452.2 201.2L449.3 204.5L446.5 201.2Z"/><path d="M452.4 197.3L455.2 200.6L452.4 203.8L449.5 200.6Z"/><path d="M455.4 196.6L458.2 199.8L455.4 203.1L452.5 199.8Z"/><path d="M458.4 195.9L461.3 199.2L458.4 202.5L455.6 199.2Z"/><path d="M461.5 195.3L464.3 198.6L461.5 201.8L458.6 198.6Z"/><path d="M464.5 194.3L467.3 197.6L464.5 200.8L461.6 197.6Z"/><path d="M467.5 193.0L470.4 196.3L467.5 199.6L464.7 196.3Z"/><path d="M470.5 191.6L473.4 194.9L470.5 198.2L467.7 194.9Z"/><path d="M473.6 190.2L476.4 193.5L473.6 196.8L470.7 193.5Z"/><path d="M476.6 189.0L479.5 192.3L476.6 195.6L473.8 192.3Z"/><path d="M479.6 187.9L482.5 191.2L479.6 194.4L476.8 191.2Z"/><path d="M482.7 186.7L485.5 189.9L482.7 193.2L479.8 189.9Z"/><path d="M485.7 185.0L488.5 188.3L485.7 191.6L482.8 188.3Z"/><path d="M488.7 182.6L491.6 185.9L488.7 189.2L485.9 185.9Z"/><path d="M491.8 179.6L494.6 182.8L491.8 186.1L488.9 182.8Z"/><path d="M494.8 176.4L497.6 179.7L494.8 182.9L491.9 179.7Z"/><path d="M497.8 173.1L500.7 176.4L497.8 179.7L495.0 176.4Z"/><path d="M500.8 169.2L503.7 172.4L500.8 175.7L498.0 172.4Z"/><path d="M503.9 163.7L506.7 166.9L503.9 170.2L501.0 166.9Z"/><path d="M506.9 158.2L509.8 161.5L506.9 164.8L504.1 161.5Z"/><path d="M509.9 153.8L512.8 157.1L509.9 160.4L507.1 157.1Z"/><path d="M513.0 148.5L515.8 151.8L513.0 155.1L510.1 151.8Z"/><path d="M516.0 142.6L518.8 145.9L516.0 149.2L513.1 145.9Z"/><path d="M519.0 139.4L521.9 142.7L519.0 146.0L516.2 142.7Z"/><path d="M522.1 136.7L524.9 140.0L522.1 143.3L519.2 140.0Z"/><path d="M525.1 134.1L527.9 137.3L525.1 140.6L522.2 137.3Z"/><path d="M528.1 131.6L531.0 134.9L528.1 138.2L525.3 134.9Z"/><path d="M531.1 129.6L534.0 132.9L531.1 136.2L528.3 132.9Z"/><path d="M534.2 128.2L537.0 131.5L534.2 134.8L531.3 131.5Z"/><path d="M537.2 127.2L540.1 130.5L537.2 133.8L534.4 130.5Z"/><path d="M540.2 126.3L543.1 129.6L540.2 132.9L537.4 129.6Z"/><path d="M543.3 125.5L546.1 128.8L543.3 132.0L540.4 128.8Z"/><path d="M546.3 124.7L549.1 128.0L546.3 131.3L543.4 128.0Z"/><path d="M549.3 124.0L552.2 127.2L549.3 130.5L546.5 127.2Z"/><path d="M552.4 123.2L555.2 126.5L552.4 129.8L549.5 126.5Z"/><path d="M555.4 122.5L558.2 125.8L555.4 129.1L552.5 125.8Z"/><path d="M558.4 121.6L561.3 124.9L558.4 128.1L555.6 124.9Z"/><path d="M561.4 120.6L564.3 123.8L561.4 127.1L558.6 123.8Z"/><path d="M564.5 120.5L567.3 123.7L564.5 127.0L561.6 123.7Z"/><path d="M567.5 122.4L570.4 125.7L567.5 129.0L564.7 125.7Z"/><path d="M570.5 124.8L573.4 128.1L570.5 131.4L567.7 128.1Z"/><path d="M573.6 126.9L576.4 130.2L573.6 133.5L570.7 130.2Z"/><path d="M576.6 128.6L579.4 131.8L576.6 135.1L573.7 131.8Z"/><path d="M579.6 129.5L582.5 132.8L579.6 136.1L576.8 132.8Z"/><path d="M582.7 129.7L585.5 132.9L582.7 136.2L579.8 132.9Z"/><path d="M585.7 128.9L588.5 132.2L585.7 135.5L582.8 132.2Z"/><path d="M588.7 127.0L591.6 130.3L588.7 133.6L585.9 130.3Z"/><path d="M591.7 123.9L594.6 127.2L591.7 130.5L588.9 127.2Z"/><path d="M594.8 120.2L597.6 123.5L594.8 126.8L591.9 123.5Z"/><path d="M597.8 116.0L600.7 119.3L597.8 122.6L595.0 119.3Z"/><path d="M600.8 112.1L603.7 115.4L600.8 118.7L598.0 115.4Z"/><path d="M603.9 107.7L606.7 111.0L603.9 114.3L601.0 111.0Z"/><path d="M606.9 102.8L609.7 106.1L606.9 109.4L604.0 106.1Z"/><path d="M609.9 99.2L612.8 102.5L609.9 105.8L607.1 102.5Z"/><path d="M613.0 95.9L615.8 99.2L613.0 102.5L610.1 99.2Z"/><path d="M616.0 92.7L618.8 96.0L616.0 99.3L613.1 96.0Z"/><path d="M619.0 90.2L621.9 93.5L619.0 96.8L616.2 93.5Z"/><path d="M622.0 88.6L624.9 91.9L622.0 95.2L619.2 91.9Z"/><path d="M625.1 87.4L627.9 90.7L625.1 93.9L622.2 90.7Z"/><path d="M628.1 86.2L631.0 89.4L628.1 92.7L625.3 89.4Z"/><path d="M631.1 85.9L634.0 89.2L631.1 92.4L628.3 89.2Z"/><path d="M634.2 86.8L637.0 90.1L634.2 93.4L631.3 90.1Z"/><path d="M637.2 88.4L640.0 91.6L637.2 94.9L634.3 91.6Z"/><path d="M640.2 90.3L643.1 93.6L640.2 96.9L637.4 93.6Z"/><path d="M643.3 92.6L646.1 95.9L643.3 99.1L640.4 95.9Z"/><path d="M646.3 94.8L649.1 98.0L646.3 101.3L643.4 98.0Z"/><path d="M649.3 96.8L652.2 100.1L649.3 103.4L646.5 100.1Z"/><path d="M652.3 98.8L655.2 102.0L652.3 105.3L649.5 102.0Z"/><path d="M655.4 100.4L658.2 103.6L655.4 106.9L652.5 103.6Z"/><path d="M658.4 101.9L661.3 105.1L658.4 108.4L655.6 105.1Z"/><path d="M661.4 103.6L664.3 106.9L661.4 110.1L658.6 106.9Z"/><path d="M664.5 105.4L667.3 108.7L664.5 112.0L661.6 108.7Z"/></g>
<path d="M395.7 177.5 L396.2 177.8 L396.9 178.3 L397.6 178.8 L398.5 179.3 L399.5 180.0 L400.4 180.6 L401.4 181.3 L402.4 181.9 L403.3 182.4 L404.1 183.0 L404.9 183.5 L405.7 184.0 L406.6 184.5 L407.5 185.1 L408.3 185.6 L409.2 186.2 L410.1 186.7 L410.9 187.3 L411.8 187.8 L412.7 188.4 L413.6 188.9 L414.5 189.5 L415.4 190.1 L416.2 190.7 L417.1 191.2 L418.0 191.8 L418.9 192.3 L419.8 192.8 L420.7 193.3 L421.6 193.8 L422.6 194.2 L423.5 194.7 L424.4 195.1 L425.4 195.5 L426.3 195.9 L427.3 196.2 L428.2 196.5 L429.1 196.9 L430.1 197.2 L431.1 197.4 L432.1 197.7 L433.1 198.0 L434.1 198.2 L435.1 198.4 L436.1 198.6 L437.1 198.7 L438.1 198.8 L439.1 198.8 L440.2 198.8 L441.2 198.8 L442.3 198.7 L443.3 198.6 L444.4 198.4 L445.4 198.2 L446.5 198.0 L447.5 197.8 L448.5 197.5 L449.5 197.2 L450.5 196.9 L451.6 196.5 L452.6 196.1 L453.6 195.7 L454.6 195.3 L455.5 195.0 L456.4 194.6 L457.4 194.2 L458.3 193.9 L459.2 193.6 L460.1 193.3 L461.0 192.9 L461.9 192.5 L462.8 191.9 L463.6 191.4 L464.4 190.8 L465.1 190.2 L465.9 189.6 L466.7 188.9 L467.4 188.1 L468.2 187.4 L469.0 186.6 L469.8 185.9 L470.5 185.1 L471.3 184.4 L472.0 183.6 L472.7 182.9 L473.3 182.1 L474.0 181.4 L474.7 180.6 L475.3 179.8 L475.9 179.0 L476.6 178.2 L477.2 177.4 L477.8 176.4 L478.5 175.5 L479.0 174.7 L479.5 173.9 L480.1 173.1 L480.6 172.2 L481.1 171.3 L481.6 170.4 L482.2 169.5 L482.7 168.5 L483.2 167.6 L483.7 166.7 L484.2 165.8 L484.7 164.8 L485.2 163.9 L485.6 163.0 L486.1 162.1 L486.6 161.1 L487.0 160.1 L487.5 159.1 L487.9 158.1 L488.3 157.2 L488.8 156.2 L489.2 155.3 L489.6 154.4 L490.0 153.5 L490.5 152.6 L490.9 151.8 L491.5 150.8 L492.1 149.9 L492.6 149.0 L493.2 148.2 L493.8 147.3 L494.4 146.5 L494.9 145.7 L495.5 144.9 L496.1 144.0 L496.6 143.1 L497.1 142.2 L497.6 141.4 L498.2 140.5 L498.7 139.5 L499.2 138.6 L499.7 137.7 L500.2 136.8 L500.7 135.9 L501.2 135.0 L501.6 134.2 L502.1 133.4 L502.7 132.4 L503.3 131.4 L503.9 130.5 L504.4 129.6 L505.0 128.7 L505.5 127.9 L506.0 127.1 L506.6 126.3 L507.3 125.4 L507.9 124.5 L508.6 123.7 L509.2 122.9 L509.9 122.1 L510.5 121.3 L511.1 120.5 L511.7 119.6 L512.2 118.7 L512.7 117.8 L513.2 117.0 L513.8 116.0 L514.5 115.0 L515.0 114.3 L515.6 113.6 L516.3 112.8 L517.0 112.0 L517.7 111.3 L518.4 110.5 L519.1 109.7 L519.9 108.9 L520.6 108.1 L521.3 107.4 L522.1 106.7 L522.8 106.0 L523.6 105.3 L524.4 104.6 L525.2 103.9 L526.0 103.2 L526.7 102.5 L527.5 101.9 L528.2 101.2 L528.8 100.6 L529.6 99.8 L530.3 98.9 L531.0 98.2 L531.6 97.4 L532.3 96.7 L532.9 96.0 L533.6 95.3 L534.4 94.7 L535.3 94.1 L536.2 93.5 L537.1 93.0 L538.1 92.5 L539.1 92.0 L540.0 91.6 L541.0 91.2 L541.9 90.8 L542.9 90.5 L543.9 90.2 L544.9 89.9 L545.8 89.6 L546.8 89.3 L547.8 88.9 L548.8 88.5 L549.8 88.1 L550.8 87.6 L551.8 87.3 L552.7 87.0 L553.6 86.8 L554.6 86.9 L555.6 87.1 L556.6 87.6 L557.6 88.2 L558.5 88.8 L559.4 89.3 L560.3 89.7 L561.2 90.1 L562.0 90.4 L562.8 90.9 L563.9 91.6 L564.5 92.1 L565.2 92.7 L565.9 93.3 L566.7 94.0 L567.5 94.7 L568.3 95.5 L569.1 96.2 L569.9 96.9 L570.7 97.6 L571.5 98.2 L572.4 99.0 L573.2 99.7 L574.1 100.4 L575.0 101.1 L575.8 101.7 L576.6 102.3 L577.4 102.8 L578.2 103.2 L579.4 103.7 L580.4 104.0 L581.4 104.2 L582.4 104.2 L583.6 104.1 L584.5 104.0 L585.4 103.8 L586.3 103.5 L587.3 103.2 L588.3 102.8 L589.2 102.3 L590.2 101.7 L591.1 101.1 L591.8 100.6 L592.5 100.0 L593.3 99.3 L594.0 98.6 L594.8 97.9 L595.5 97.1 L596.2 96.3 L596.9 95.5 L597.6 94.7 L598.2 93.9 L598.8 93.1 L599.4 92.2 L599.9 91.3 L600.5 90.4 L601.0 89.5 L601.5 88.5 L602.0 87.6 L602.5 86.7 L603.0 85.8 L603.5 84.9 L604.0 84.0 L604.5 83.0 L605.0 82.1 L605.6 81.1 L606.0 80.2 L606.5 79.3 L607.0 78.5 L607.5 77.7 L608.0 76.8 L608.6 75.8 L609.1 74.9 L609.7 74.1 L610.2 73.3 L610.8 72.5 L611.4 71.8 L612.1 71.0 L612.9 70.3 L613.7 69.6 L614.5 69.0 L615.4 68.3 L616.3 67.7 L617.1 67.2 L618.0 66.7 L618.9 66.1 L619.8 65.6 L620.8 65.1 L621.7 64.6 L622.7 64.1 L623.6 63.7 L624.6 63.2 L625.6 62.8 L626.6 62.3 L627.6 61.9 L628.6 61.6 L629.6 61.4 L630.5 61.3 L631.5 61.3 L632.6 61.5 L633.6 61.7 L634.6 62.1 L635.5 62.5 L636.5 62.9 L637.5 63.4 L638.4 63.8 L639.2 64.3 L640.1 64.8 L640.9 65.4 L641.8 66.0 L642.6 66.6 L643.5 67.3 L644.3 68.0 L645.0 68.6 L645.7 69.3 L646.4 70.0 L647.2 70.7 L647.9 71.4 L648.6 72.2 L649.3 73.0 L650.0 73.7 L650.7 74.4 L651.5 75.2 L652.2 75.9 L652.9 76.6 L653.6 77.3 L654.4 78.0 L655.1 78.7 L655.8 79.5 L656.6 80.2 L657.3 80.9 L658.0 81.6 L658.8 82.3 L659.6 83.2 L660.4 84.0 L661.2 84.8 L662.0 85.6 L662.8 86.4 L663.5 87.1 L664.1 87.7 L664.6 88.2 L664.8 88.4" fill="none" stroke="#f00" stroke-width="1.0" stroke-linejoin="round"/>
<g fill="#f00"><path d="M395.7 174.4L398.8 179.7L392.6 179.7Z"/><path d="M398.7 176.4L401.8 181.7L395.6 181.7Z"/><path d="M401.8 178.4L404.8 183.7L398.7 183.7Z"/><path d="M404.8 180.3L407.9 185.6L401.7 185.6Z"/><path d="M407.8 182.2L410.9 187.6L404.7 187.6Z"/><path d="M410.8 184.1L413.9 189.4L407.8 189.4Z"/><path d="M413.9 186.1L417.0 191.4L410.8 191.4Z"/><path d="M416.9 188.0L420.0 193.3L413.8 193.3Z"/><path d="M419.9 189.8L423.0 195.1L416.9 195.1Z"/><path d="M423.0 191.3L426.0 196.7L419.9 196.7Z"/><path d="M426.0 192.6L429.1 198.0L422.9 198.0Z"/><path d="M429.0 193.7L432.1 199.1L425.9 199.1Z"/><path d="M432.1 194.6L435.1 199.9L429.0 199.9Z"/><path d="M435.1 195.3L438.2 200.6L432.0 200.6Z"/><path d="M438.1 195.7L441.2 201.0L435.0 201.0Z"/><path d="M441.1 195.7L444.2 201.0L438.1 201.0Z"/><path d="M444.2 195.4L447.3 200.7L441.1 200.7Z"/><path d="M447.2 194.8L450.3 200.1L444.1 200.1Z"/><path d="M450.2 193.9L453.3 199.2L447.2 199.2Z"/><path d="M453.3 192.8L456.3 198.1L450.2 198.1Z"/><path d="M456.3 191.6L459.4 196.9L453.2 196.9Z"/><path d="M459.3 190.5L462.4 195.8L456.2 195.8Z"/><path d="M462.4 189.1L465.4 194.4L459.3 194.4Z"/><path d="M465.4 186.9L468.5 192.2L462.3 192.2Z"/><path d="M468.4 184.1L471.5 189.5L465.3 189.5Z"/><path d="M471.4 181.1L474.5 186.4L468.4 186.4Z"/><path d="M474.5 177.7L477.6 183.0L471.4 183.0Z"/><path d="M477.5 173.8L480.6 179.2L474.4 179.2Z"/><path d="M480.5 169.2L483.6 174.5L477.5 174.5Z"/><path d="M483.6 163.9L486.6 169.2L480.5 169.2Z"/><path d="M486.6 158.0L489.7 163.3L483.5 163.3Z"/><path d="M489.6 151.2L492.7 156.6L486.5 156.6Z"/><path d="M492.7 145.9L495.7 151.2L489.6 151.2Z"/><path d="M495.7 141.5L498.8 146.9L492.6 146.9Z"/><path d="M498.7 136.4L501.8 141.7L495.6 141.7Z"/><path d="M501.7 130.9L504.8 136.2L498.7 136.2Z"/><path d="M504.8 125.9L507.9 131.3L501.7 131.3Z"/><path d="M507.8 121.6L510.9 126.9L504.7 126.9Z"/><path d="M510.8 117.8L513.9 123.1L507.8 123.1Z"/><path d="M513.9 112.8L516.9 118.1L510.8 118.1Z"/><path d="M516.9 109.0L520.0 114.3L513.8 114.3Z"/><path d="M519.9 105.7L523.0 111.0L516.8 111.0Z"/><path d="M523.0 102.8L526.0 108.1L519.9 108.1Z"/><path d="M526.0 100.1L529.1 105.4L522.9 105.4Z"/><path d="M529.0 97.3L532.1 102.6L525.9 102.6Z"/><path d="M532.0 93.8L535.1 99.2L529.0 99.2Z"/><path d="M535.1 91.1L538.2 96.5L532.0 96.5Z"/><path d="M538.1 89.4L541.2 94.7L535.0 94.7Z"/><path d="M541.1 88.1L544.2 93.4L538.1 93.4Z"/><path d="M544.2 87.0L547.2 92.3L541.1 92.3Z"/><path d="M547.2 86.1L550.3 91.4L544.1 91.4Z"/><path d="M550.2 84.8L553.3 90.1L547.1 90.1Z"/><path d="M553.3 83.8L556.3 89.1L550.2 89.1Z"/><path d="M556.3 84.3L559.4 89.7L553.2 89.7Z"/><path d="M559.3 86.2L562.4 91.5L556.2 91.5Z"/><path d="M562.3 87.5L565.4 92.8L559.3 92.8Z"/><path d="M565.4 89.7L568.5 95.1L562.3 95.1Z"/><path d="M568.4 92.5L571.5 97.8L565.3 97.8Z"/><path d="M571.4 95.1L574.5 100.4L568.4 100.4Z"/><path d="M574.5 97.6L577.5 102.9L571.4 102.9Z"/><path d="M577.5 99.7L580.6 105.1L574.4 105.1Z"/><path d="M580.5 101.0L583.6 106.3L577.4 106.3Z"/><path d="M583.6 101.0L586.6 106.3L580.5 106.3Z"/><path d="M586.6 100.3L589.7 105.6L583.5 105.6Z"/><path d="M589.6 99.0L592.7 104.3L586.5 104.3Z"/><path d="M592.6 96.8L595.7 102.1L589.6 102.1Z"/><path d="M595.7 93.8L598.8 99.2L592.6 99.2Z"/><path d="M598.7 90.1L601.8 95.4L595.6 95.4Z"/><path d="M601.7 85.0L604.8 90.3L598.7 90.3Z"/><path d="M604.8 79.5L607.8 84.8L601.7 84.8Z"/><path d="M607.8 74.1L610.9 79.4L604.7 79.4Z"/><path d="M610.8 69.4L613.9 74.7L607.7 74.7Z"/><path d="M613.9 66.4L616.9 71.7L610.8 71.7Z"/><path d="M616.9 64.3L620.0 69.6L613.8 69.6Z"/><path d="M619.9 62.4L623.0 67.8L616.8 67.8Z"/><path d="M622.9 60.9L626.0 66.2L619.9 66.2Z"/><path d="M626.0 59.5L629.1 64.8L622.9 64.8Z"/><path d="M629.0 58.4L632.1 63.8L625.9 63.8Z"/><path d="M632.0 58.3L635.1 63.6L629.0 63.6Z"/><path d="M635.1 59.2L638.1 64.5L632.0 64.5Z"/><path d="M638.1 60.6L641.2 65.9L635.0 65.9Z"/><path d="M641.1 62.5L644.2 67.8L638.0 67.8Z"/><path d="M644.2 64.8L647.2 70.1L641.1 70.1Z"/><path d="M647.2 67.7L650.3 73.0L644.1 73.0Z"/><path d="M650.2 70.8L653.3 76.1L647.1 76.1Z"/><path d="M653.2 73.8L656.3 79.2L650.2 79.2Z"/><path d="M656.3 76.8L659.4 82.1L653.2 82.1Z"/><path d="M659.3 79.8L662.4 85.1L656.2 85.1Z"/><path d="M662.3 82.9L665.4 88.2L659.3 88.2Z"/><path d="M664.8 85.3L667.9 90.6L661.7 90.6Z"/></g>
<path d="M395.7 173.0 L396.1 173.4 L396.7 173.9 L397.4 174.5 L398.1 175.2 L399.0 176.0 L399.8 176.7 L400.7 177.5 L401.6 178.2 L402.5 178.9 L403.3 179.5 L404.1 180.0 L405.0 180.6 L405.9 181.1 L406.8 181.6 L407.7 182.2 L408.6 182.7 L409.5 183.2 L410.4 183.7 L411.4 184.2 L412.2 184.8 L413.1 185.3 L414.0 185.9 L414.9 186.4 L415.8 187.0 L416.7 187.5 L417.6 188.1 L418.5 188.6 L419.4 189.1 L420.3 189.6 L421.2 190.0 L422.1 190.5 L423.1 190.9 L424.1 191.3 L425.0 191.7 L426.0 192.1 L426.9 192.4 L427.8 192.8 L428.7 193.1 L429.6 193.3 L430.7 193.6 L431.7 193.8 L432.7 194.0 L433.7 194.1 L434.7 194.2 L435.7 194.2 L436.8 194.2 L437.7 194.1 L438.6 194.0 L439.6 193.9 L440.6 193.8 L441.6 193.6 L442.6 193.3 L443.6 193.0 L444.7 192.7 L445.7 192.3 L446.5 191.9 L447.4 191.5 L448.4 191.0 L449.3 190.5 L450.2 189.9 L451.2 189.3 L452.1 188.7 L453.0 188.2 L453.9 187.6 L454.6 187.1 L455.4 186.7 L456.3 186.1 L457.3 185.5 L458.1 185.0 L458.8 184.5 L459.6 184.1 L460.5 183.5 L461.3 183.0 L462.2 182.6 L463.2 182.1 L464.1 181.6 L465.1 181.0 L466.1 180.5 L467.0 179.8 L467.8 179.2 L468.5 178.5 L469.2 177.8 L469.9 177.0 L470.6 176.2 L471.3 175.4 L472.0 174.6 L472.7 173.7 L473.3 172.8 L473.8 172.1 L474.4 171.3 L474.9 170.5 L475.5 169.6 L476.0 168.8 L476.6 167.9 L477.1 167.0 L477.7 166.0 L478.2 165.0 L478.7 164.1 L479.1 163.3 L479.6 162.4 L480.0 161.5 L480.4 160.6 L480.9 159.7 L481.3 158.7 L481.7 157.7 L482.1 156.8 L482.6 155.8 L483.0 154.9 L483.4 153.9 L483.8 153.0 L484.2 152.0 L484.6 151.0 L485.0 150.0 L485.4 149.0 L485.8 148.0 L486.2 147.0 L486.6 146.0 L486.9 145.0 L487.3 144.0 L487.7 143.1 L488.1 142.2 L488.4 141.3 L488.8 140.5 L489.3 139.4 L489.8 138.5 L490.3 137.6 L490.8 136.8 L491.3 136.0 L491.8 135.2 L492.4 134.4 L492.9 133.5 L493.4 132.6 L494.0 131.8 L494.5 130.9 L495.1 130.0 L495.7 129.1 L496.3 128.2 L496.9 127.3 L497.5 126.4 L498.0 125.6 L498.5 124.8 L498.9 124.0 L499.4 122.9 L499.8 121.9 L500.1 121.0 L500.4 120.1 L500.7 119.2 L501.2 118.3 L501.8 117.4 L502.4 116.7 L503.1 116.0 L503.8 115.2 L504.6 114.5 L505.4 113.7 L506.2 112.9 L506.9 112.2 L507.7 111.4 L508.3 110.6 L509.0 109.8 L509.7 109.0 L510.3 108.2 L510.9 107.4 L511.5 106.6 L512.1 105.7 L512.7 104.8 L513.2 103.8 L513.6 103.0 L514.0 102.1 L514.3 101.1 L514.7 100.2 L515.0 99.2 L515.3 98.1 L515.6 97.1 L516.0 96.2 L516.3 95.2 L516.7 94.3 L517.1 93.5 L517.7 92.5 L518.2 91.5 L518.9 90.6 L519.5 89.8 L520.1 88.9 L520.8 88.1 L521.4 87.4 L522.0 86.7 L522.7 85.9 L523.3 85.0 L524.0 84.3 L524.6 83.6 L525.3 83.0 L526.0 82.3 L526.8 81.6 L527.5 81.0 L528.3 80.4 L529.2 79.8 L530.0 79.2 L530.9 78.7 L531.8 78.1 L532.7 77.5 L533.6 77.0 L534.5 76.4 L535.4 75.9 L536.4 75.4 L537.3 74.8 L538.2 74.3 L539.1 73.9 L540.0 73.4 L541.0 73.0 L542.0 72.6 L542.9 72.1 L543.9 71.8 L544.9 71.4 L545.8 71.2 L546.8 71.0 L547.8 70.9 L548.9 70.9 L549.9 71.0 L551.0 71.2 L552.0 71.4 L553.1 71.6 L554.1 71.8 L555.2 72.0 L556.2 72.2 L557.3 72.4 L558.4 72.6 L559.4 72.8 L560.4 73.1 L561.5 73.3 L562.6 73.6 L563.7 73.9 L564.7 74.2 L565.6 74.7 L566.4 75.3 L567.0 76.2 L567.5 77.2 L568.0 78.2 L568.6 79.2 L569.3 80.0 L570.1 80.6 L571.0 81.2 L571.9 81.7 L573.0 82.1 L574.0 82.5 L575.1 82.9 L576.1 83.2 L577.1 83.6 L578.2 83.9 L579.3 84.2 L580.3 84.4 L581.3 84.5 L582.4 84.4 L583.4 84.1 L584.4 83.7 L585.4 83.1 L586.3 82.5 L587.1 81.8 L587.9 81.1 L588.6 80.5 L589.2 79.7 L589.8 78.9 L590.4 77.9 L590.9 76.9 L591.2 76.0 L591.5 75.1 L591.8 74.1 L592.1 73.1 L592.4 72.0 L592.7 70.9 L593.0 69.8 L593.4 68.8 L593.8 67.9 L594.3 66.9 L594.7 66.0 L595.2 65.0 L595.7 64.0 L596.3 63.1 L596.8 62.2 L597.2 61.3 L597.7 60.4 L598.2 59.5 L598.6 58.5 L599.1 57.6 L599.5 56.7 L599.9 55.8 L600.3 55.0 L600.8 54.1 L601.3 53.2 L601.9 52.4 L602.4 51.5 L603.0 50.7 L603.6 49.9 L604.2 49.0 L604.8 48.1 L605.4 47.3 L606.0 46.4 L606.5 45.5 L607.0 44.7 L607.5 43.8 L608.0 42.9 L608.4 42.0 L608.9 41.1 L609.4 40.2 L609.9 39.3 L610.5 38.4 L611.1 37.5 L611.6 36.7 L612.2 35.8 L612.8 35.0 L613.4 34.1 L613.9 33.3 L614.5 32.4 L615.1 31.6 L615.6 30.7 L616.2 29.8 L616.7 28.8 L617.3 27.9 L617.8 27.1 L618.4 26.3 L619.0 25.5 L619.7 24.8 L620.5 24.2 L621.4 23.6 L622.2 23.1 L623.1 22.6 L624.1 22.2 L625.0 21.8 L625.9 21.4 L626.9 21.0 L627.8 20.7 L628.8 20.4 L629.8 20.1 L630.8 20.0 L631.8 20.0 L632.8 20.2 L633.8 20.5 L634.8 20.9 L635.8 21.4 L636.8 22.0 L637.7 22.5 L638.6 23.0 L639.6 23.6 L640.5 24.2 L641.3 24.8 L642.1 25.5 L642.8 26.1 L643.6 26.8 L644.4 27.4 L645.2 28.1 L645.9 28.8 L646.6 29.8 L647.0 30.5 L647.5 31.4 L647.9 32.3 L648.3 33.2 L648.8 34.2 L649.2 35.2 L649.7 36.1 L650.3 37.0 L650.8 37.9 L651.4 38.7 L651.9 39.5 L652.5 40.3 L653.1 41.2 L653.7 42.1 L654.2 42.9 L654.7 43.8 L655.2 44.7 L655.6 45.7 L656.0 46.6 L656.4 47.6 L656.8 48.5 L657.2 49.5 L657.6 50.5 L658.0 51.4 L658.4 52.3 L658.8 53.3 L659.3 54.3 L659.7 55.3 L660.1 56.2 L660.5 57.1 L660.9 58.0 L661.2 58.9 L661.6 59.9 L662.1 60.9 L662.5 61.8 L662.8 62.7 L663.1 63.6 L663.5 64.5 L663.8 65.5 L664.0 66.7 L664.3 67.9 L664.5 69.0 L664.7 70.0 L664.8 70.7 L664.8 70.7" fill="none" stroke="#000" stroke-width="1.0" stroke-linejoin="round"/>
<g fill="#000"><circle cx="395.7" cy="173.0" r="2.55"/><circle cx="398.9" cy="175.9" r="2.55"/><circle cx="402.1" cy="178.6" r="2.55"/><circle cx="405.3" cy="180.8" r="2.55"/><circle cx="408.5" cy="182.6" r="2.55"/><circle cx="411.7" cy="184.4" r="2.55"/><circle cx="414.9" cy="186.4" r="2.55"/><circle cx="418.1" cy="188.4" r="2.55"/><circle cx="421.3" cy="190.1" r="2.55"/><circle cx="424.5" cy="191.5" r="2.55"/><circle cx="427.7" cy="192.7" r="2.55"/><circle cx="430.9" cy="193.6" r="2.55"/><circle cx="434.1" cy="194.2" r="2.55"/><circle cx="437.3" cy="194.2" r="2.55"/><circle cx="440.5" cy="193.8" r="2.55"/><circle cx="443.7" cy="193.0" r="2.55"/><circle cx="446.9" cy="191.8" r="2.55"/><circle cx="450.1" cy="190.0" r="2.55"/><circle cx="453.3" cy="188.0" r="2.55"/><circle cx="456.5" cy="186.0" r="2.55"/><circle cx="459.7" cy="184.0" r="2.55"/><circle cx="462.9" cy="182.2" r="2.55"/><circle cx="466.1" cy="180.4" r="2.55"/><circle cx="469.3" cy="177.7" r="2.55"/><circle cx="472.5" cy="173.9" r="2.55"/><circle cx="475.7" cy="169.3" r="2.55"/><circle cx="478.9" cy="163.7" r="2.55"/><circle cx="482.1" cy="156.9" r="2.55"/><circle cx="485.3" cy="149.3" r="2.55"/><circle cx="488.5" cy="141.2" r="2.55"/><circle cx="491.7" cy="135.4" r="2.55"/><circle cx="494.9" cy="130.3" r="2.55"/><circle cx="498.1" cy="125.4" r="2.55"/><circle cx="501.3" cy="118.1" r="2.55"/><circle cx="504.5" cy="114.5" r="2.55"/><circle cx="507.7" cy="111.3" r="2.55"/><circle cx="510.9" cy="107.4" r="2.55"/><circle cx="514.1" cy="101.7" r="2.55"/><circle cx="517.3" cy="93.1" r="2.55"/><circle cx="520.5" cy="88.5" r="2.55"/><circle cx="523.7" cy="84.6" r="2.55"/><circle cx="526.9" cy="81.5" r="2.55"/><circle cx="530.1" cy="79.2" r="2.55"/><circle cx="533.3" cy="77.2" r="2.55"/><circle cx="536.5" cy="75.3" r="2.55"/><circle cx="539.7" cy="73.6" r="2.55"/><circle cx="542.9" cy="72.2" r="2.55"/><circle cx="546.1" cy="71.1" r="2.55"/><circle cx="549.3" cy="70.9" r="2.55"/><circle cx="552.5" cy="71.5" r="2.55"/><circle cx="555.7" cy="72.1" r="2.55"/><circle cx="558.9" cy="72.7" r="2.55"/><circle cx="562.1" cy="73.5" r="2.55"/><circle cx="565.3" cy="74.5" r="2.55"/><circle cx="568.5" cy="79.0" r="2.55"/><circle cx="571.7" cy="81.5" r="2.55"/><circle cx="574.9" cy="82.8" r="2.55"/><circle cx="578.1" cy="83.9" r="2.55"/><circle cx="581.3" cy="84.5" r="2.55"/><circle cx="584.5" cy="83.6" r="2.55"/><circle cx="587.7" cy="81.3" r="2.55"/><circle cx="590.9" cy="76.9" r="2.55"/><circle cx="594.1" cy="67.2" r="2.55"/><circle cx="597.3" cy="61.2" r="2.55"/><circle cx="600.5" cy="54.7" r="2.55"/><circle cx="603.7" cy="49.8" r="2.55"/><circle cx="606.9" cy="44.8" r="2.55"/><circle cx="610.1" cy="39.1" r="2.55"/><circle cx="613.3" cy="34.2" r="2.55"/><circle cx="616.5" cy="29.2" r="2.55"/><circle cx="619.7" cy="24.8" r="2.55"/><circle cx="622.9" cy="22.7" r="2.55"/><circle cx="626.1" cy="21.3" r="2.55"/><circle cx="629.3" cy="20.2" r="2.55"/><circle cx="632.5" cy="20.1" r="2.55"/><circle cx="635.7" cy="21.4" r="2.55"/><circle cx="638.9" cy="23.2" r="2.55"/><circle cx="642.1" cy="25.5" r="2.55"/><circle cx="645.3" cy="28.2" r="2.55"/><circle cx="648.5" cy="33.6" r="2.55"/><circle cx="651.7" cy="39.2" r="2.55"/><circle cx="654.9" cy="44.2" r="2.55"/><circle cx="658.1" cy="51.6" r="2.55"/><circle cx="661.3" cy="59.1" r="2.55"/><circle cx="664.5" cy="69.1" r="2.55"/></g>
<rect x="42.8" y="9.6" width="74" height="47.4" fill="#fff" stroke="#000" stroke-width="1.4"/><path d="M43.6 16.3H65.2" stroke="#000" stroke-width="1.3"/><g fill="#000"><circle cx="54.4" cy="16.3" r="2.00"/></g><text transform="translate(70.5,19.5) scale(1.17,0.9)" font-family="Liberation Serif" font-weight="bold" font-size="9.6" letter-spacing="0.3" fill="#000">50</text><text transform="translate(87.3,19.5) scale(1.17,0.9)" font-family="Liberation Serif" font-weight="bold" font-size="9.6" letter-spacing="0.3" fill="#000">k</text><text transform="translate(98.7,19.5) scale(1.0,0.9)" font-family="Liberation Serif" font-weight="bold" font-size="9.6" letter-spacing="0.3" fill="#000">Hz</text><path d="M43.6 27.5H65.2" stroke="#f00" stroke-width="1.3"/><g fill="#f00"><path d="M54.4 24.9L57.0 29.4L51.8 29.4Z"/></g><text transform="translate(70.5,30.7) scale(1.17,0.9)" font-family="Liberation Serif" font-weight="bold" font-size="9.6" letter-spacing="0.3" fill="#000">100</text><text transform="translate(92.3,30.7) scale(1.17,0.9)" font-family="Liberation Serif" font-weight="bold" font-size="9.6" letter-spacing="0.3" fill="#000">k</text><text transform="translate(104.1,30.7) scale(1.0,0.9)" font-family="Liberation Serif" font-weight="bold" font-size="9.6" letter-spacing="0.3" fill="#000">Hz</text><path d="M43.6 39.1H65.2" stroke="#00f" stroke-width="1.3"/><g fill="#00f"><path d="M54.4 36.1L57.0 39.1L54.4 42.1L51.8 39.1Z"/></g><text transform="translate(70.5,42.3) scale(1.17,0.9)" font-family="Liberation Serif" font-weight="bold" font-size="9.6" letter-spacing="0.3" fill="#000">500</text><text transform="translate(92.3,42.3) scale(1.17,0.9)" font-family="Liberation Serif" font-weight="bold" font-size="9.6" letter-spacing="0.3" fill="#000">k</text><text transform="translate(104.1,42.3) scale(1.0,0.9)" font-family="Liberation Serif" font-weight="bold" font-size="9.6" letter-spacing="0.3" fill="#000">Hz</text><path d="M43.6 50.4H65.2" stroke="#0f0" stroke-width="1.3"/><g fill="#0f0"><path d="M54.4 53.1L57.2 48.4L51.7 48.4Z"/></g><text transform="translate(70.5,53.6) scale(1.17,0.9)" font-family="Liberation Serif" font-weight="bold" font-size="9.6" letter-spacing="0.3" fill="#000">1</text><text transform="translate(81.7,53.6) scale(0.8,0.9)" font-family="Liberation Serif" font-weight="bold" font-size="9.6" letter-spacing="0.3" fill="#000">M</text><text transform="translate(93.3,53.6) scale(1.0,0.9)" font-family="Liberation Serif" font-weight="bold" font-size="9.6" letter-spacing="0.3" fill="#000">Hz</text>
<rect x="384.7" y="6.4" width="74.6" height="47.9" fill="#fff" stroke="#000" stroke-width="1.4"/><path d="M386.0 13.4H407.2" stroke="#000" stroke-width="1.3"/><g fill="#000"><circle cx="396.6" cy="13.4" r="2.00"/></g><text transform="translate(413.0,16.6) scale(1.17,0.9)" font-family="Liberation Serif" font-weight="bold" font-size="9.6" letter-spacing="0.3" fill="#000">50</text><text transform="translate(429.0,16.6) scale(1.17,0.9)" font-family="Liberation Serif" font-weight="bold" font-size="9.6" letter-spacing="0.3" fill="#000">k</text><text transform="translate(439.9,16.6) scale(1.0,0.9)" font-family="Liberation Serif" font-weight="bold" font-size="9.6" letter-spacing="0.3" fill="#000">Hz</text><path d="M386.0 24.8H407.2" stroke="#f00" stroke-width="1.3"/><g fill="#f00"><path d="M396.6 22.2L399.2 26.7L394.0 26.7Z"/></g><text transform="translate(413.0,28.0) scale(1.17,0.9)" font-family="Liberation Serif" font-weight="bold" font-size="9.6" letter-spacing="0.3" fill="#000">100</text><text transform="translate(433.8,28.0) scale(1.17,0.9)" font-family="Liberation Serif" font-weight="bold" font-size="9.6" letter-spacing="0.3" fill="#000">k</text><text transform="translate(445.1,28.0) scale(1.0,0.9)" font-family="Liberation Serif" font-weight="bold" font-size="9.6" letter-spacing="0.3" fill="#000">Hz</text><path d="M386.0 36.2H407.2" stroke="#00f" stroke-width="1.3"/><g fill="#00f"><path d="M396.6 33.2L399.2 36.2L396.6 39.2L394.0 36.2Z"/></g><text transform="translate(413.0,39.4) scale(1.17,0.9)" font-family="Liberation Serif" font-weight="bold" font-size="9.6" letter-spacing="0.3" fill="#000">500</text><text transform="translate(433.8,39.4) scale(1.17,0.9)" font-family="Liberation Serif" font-weight="bold" font-size="9.6" letter-spacing="0.3" fill="#000">k</text><text transform="translate(445.1,39.4) scale(1.0,0.9)" font-family="Liberation Serif" font-weight="bold" font-size="9.6" letter-spacing="0.3" fill="#000">Hz</text><path d="M386.0 47.8H407.2" stroke="#0f0" stroke-width="1.3"/><g fill="#0f0"><path d="M396.6 50.5L399.4 45.8L393.9 45.8Z"/></g><text transform="translate(413.0,51.0) scale(1.17,0.9)" font-family="Liberation Serif" font-weight="bold" font-size="9.6" letter-spacing="0.3" fill="#000">1</text><text transform="translate(423.7,51.0) scale(0.8,0.9)" font-family="Liberation Serif" font-weight="bold" font-size="9.6" letter-spacing="0.3" fill="#000">M</text><text transform="translate(434.8,51.0) scale(1.0,0.9)" font-family="Liberation Serif" font-weight="bold" font-size="9.6" letter-spacing="0.3" fill="#000">Hz</text>
<text x="116" y="303.6" font-family="Liberation Serif" font-size="17.9" fill="#1a1a1a">(1) Dielectric constant</text>
<text x="460.6" y="299" font-family="Liberation Serif" font-size="17.8" fill="#1a1a1a">(2) Dielectric Losses</text>
</svg>
</body></html>
